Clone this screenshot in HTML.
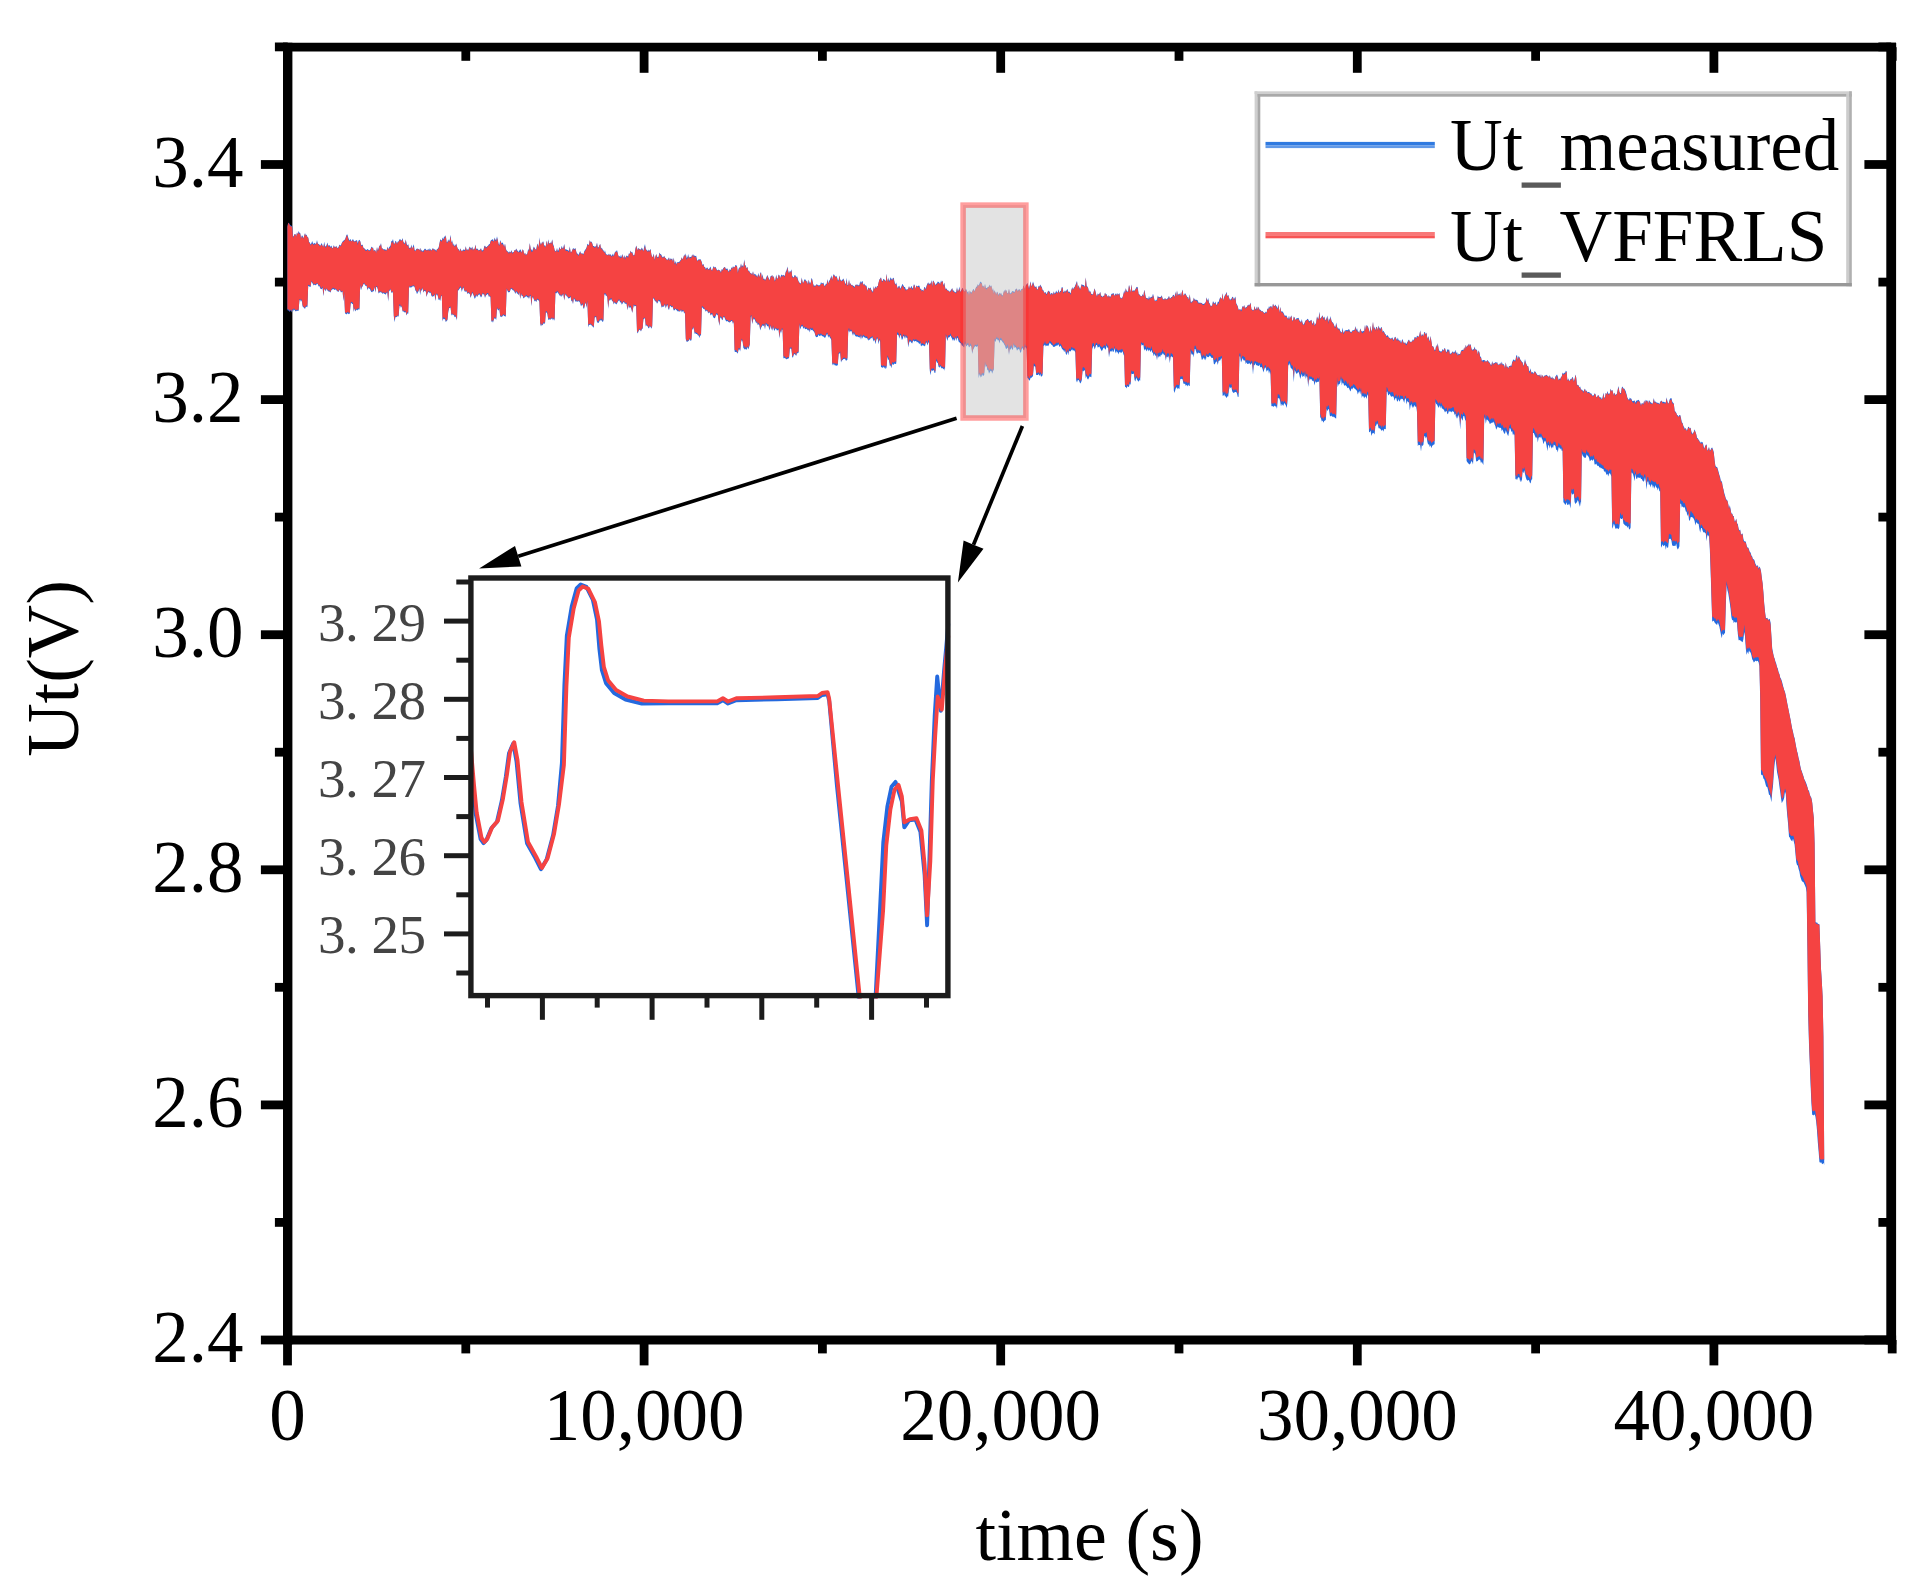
<!DOCTYPE html>
<html lang="en"><head><meta charset="utf-8"><title>Ut measured vs VFFRLS</title>
<style>html,body{margin:0;padding:0;background:#fff}svg{display:block}</style></head>
<body>
<svg width="1925" height="1595" viewBox="0 0 1925 1595">
<rect width="1925" height="1595" fill="#fff"/>
<g stroke="#000" stroke-width="8.8" fill="none">
<line x1="287.7" y1="42.800000000000004" x2="287.7" y2="1344.4" stroke-width="9.4"/>
<line x1="1891.2" y1="42.800000000000004" x2="1891.2" y2="1344.4" stroke-width="9.8"/>
<line x1="283.0" y1="47.2" x2="1896.1000000000001" y2="47.2"/>
<line x1="283.0" y1="1340.0" x2="1896.1000000000001" y2="1340.0"/>
<line x1="287.5" y1="1340.0" x2="287.5" y2="1365.4"/>
<line x1="287.5" y1="47.2" x2="287.5" y2="72.8"/>
<line x1="465.8" y1="1340.0" x2="465.8" y2="1353.4"/>
<line x1="465.8" y1="47.2" x2="465.8" y2="60.800000000000004"/>
<line x1="644.1" y1="1340.0" x2="644.1" y2="1365.4"/>
<line x1="644.1" y1="47.2" x2="644.1" y2="72.8"/>
<line x1="822.4" y1="1340.0" x2="822.4" y2="1353.4"/>
<line x1="822.4" y1="47.2" x2="822.4" y2="60.800000000000004"/>
<line x1="1000.7" y1="1340.0" x2="1000.7" y2="1365.4"/>
<line x1="1000.7" y1="47.2" x2="1000.7" y2="72.8"/>
<line x1="1179.0" y1="1340.0" x2="1179.0" y2="1353.4"/>
<line x1="1179.0" y1="47.2" x2="1179.0" y2="60.800000000000004"/>
<line x1="1357.3" y1="1340.0" x2="1357.3" y2="1365.4"/>
<line x1="1357.3" y1="47.2" x2="1357.3" y2="72.8"/>
<line x1="1535.6" y1="1340.0" x2="1535.6" y2="1353.4"/>
<line x1="1535.6" y1="47.2" x2="1535.6" y2="60.800000000000004"/>
<line x1="1713.9" y1="1340.0" x2="1713.9" y2="1365.4"/>
<line x1="1713.9" y1="47.2" x2="1713.9" y2="72.8"/>
<line x1="1892.2" y1="1340.0" x2="1892.2" y2="1353.4"/>
<line x1="1892.2" y1="47.2" x2="1892.2" y2="60.800000000000004"/>
<line x1="287.7" y1="1340.0" x2="260.9" y2="1340.0"/>
<line x1="1891.2" y1="1340.0" x2="1864.4" y2="1340.0"/>
<line x1="287.7" y1="1222.4" x2="274.9" y2="1222.4"/>
<line x1="1891.2" y1="1222.4" x2="1878.4" y2="1222.4"/>
<line x1="287.7" y1="1104.9" x2="260.9" y2="1104.9"/>
<line x1="1891.2" y1="1104.9" x2="1864.4" y2="1104.9"/>
<line x1="287.7" y1="987.3" x2="274.9" y2="987.3"/>
<line x1="1891.2" y1="987.3" x2="1878.4" y2="987.3"/>
<line x1="287.7" y1="869.8" x2="260.9" y2="869.8"/>
<line x1="1891.2" y1="869.8" x2="1864.4" y2="869.8"/>
<line x1="287.7" y1="752.2" x2="274.9" y2="752.2"/>
<line x1="1891.2" y1="752.2" x2="1878.4" y2="752.2"/>
<line x1="287.7" y1="634.7" x2="260.9" y2="634.7"/>
<line x1="1891.2" y1="634.7" x2="1864.4" y2="634.7"/>
<line x1="287.7" y1="517.1" x2="274.9" y2="517.1"/>
<line x1="1891.2" y1="517.1" x2="1878.4" y2="517.1"/>
<line x1="287.7" y1="399.6" x2="260.9" y2="399.6"/>
<line x1="1891.2" y1="399.6" x2="1864.4" y2="399.6"/>
<line x1="287.7" y1="282.1" x2="274.9" y2="282.1"/>
<line x1="1891.2" y1="282.1" x2="1878.4" y2="282.1"/>
<line x1="287.7" y1="164.5" x2="260.9" y2="164.5"/>
<line x1="1891.2" y1="164.5" x2="1864.4" y2="164.5"/>
<line x1="287.7" y1="46.9" x2="274.9" y2="46.9"/>
<line x1="1891.2" y1="46.9" x2="1878.4" y2="46.9"/>
</g>
<polygon points="287.4,226.5 288.2,222.7 289.0,223.1 289.8,224.4 290.6,225.3 291.4,225.7 292.2,226.5 293.0,236.8 293.8,235.8 294.6,233.9 295.4,234.1 296.2,236.8 297.0,232.3 297.8,234.2 298.6,231.1 299.4,232.7 300.2,233.0 301.0,238.5 301.8,235.4 302.6,235.8 303.4,238.2 304.2,235.7 305.0,233.1 305.8,235.5 306.6,234.6 307.4,236.9 308.2,237.4 309.0,241.9 309.8,242.4 310.6,244.5 311.4,243.2 312.2,241.1 313.0,243.3 313.8,244.1 314.6,242.7 315.4,243.7 316.2,243.7 317.0,240.1 317.8,243.7 318.6,244.1 319.4,244.6 320.2,245.9 321.0,244.2 321.8,243.0 322.6,245.8 323.4,246.7 324.2,241.7 325.0,246.0 325.8,246.6 326.6,245.1 327.4,242.6 328.2,245.5 329.0,245.4 329.8,245.3 330.6,247.0 331.4,245.6 332.2,247.8 333.0,248.2 333.8,244.9 334.6,247.0 335.4,247.1 336.2,245.8 337.0,247.4 337.8,248.1 338.6,247.0 339.4,244.6 340.2,245.6 341.0,244.9 341.8,243.1 342.6,241.5 343.4,240.7 344.2,240.1 345.0,239.4 345.8,236.9 346.6,234.7 347.4,234.5 348.2,237.6 349.0,239.5 349.8,240.4 350.6,238.8 351.4,241.5 352.2,239.9 353.0,239.0 353.8,240.8 354.6,241.4 355.4,240.7 356.2,240.5 357.0,240.1 357.8,243.5 358.6,240.6 359.4,239.8 360.2,240.9 361.0,244.6 361.8,245.2 362.6,244.4 363.4,247.8 364.2,248.3 365.0,249.1 365.8,249.7 366.6,250.0 367.4,249.0 368.2,249.4 369.0,250.5 369.8,249.9 370.6,249.1 371.4,246.5 372.2,247.7 373.0,247.3 373.8,251.2 374.6,249.7 375.4,250.4 376.2,252.9 377.0,246.7 377.8,250.7 378.6,248.2 379.4,245.4 380.2,245.7 381.0,242.9 381.8,248.7 382.6,248.2 383.4,249.6 384.2,248.9 385.0,249.7 385.8,249.6 386.6,250.4 387.4,246.4 388.2,249.5 389.0,247.6 389.8,246.6 390.6,245.6 391.4,241.0 392.2,241.1 393.0,239.1 393.8,243.5 394.6,243.7 395.4,240.8 396.2,241.4 397.0,244.0 397.8,241.6 398.6,241.6 399.4,239.4 400.2,238.9 401.0,240.5 401.8,240.3 402.6,238.1 403.4,242.2 404.2,242.5 405.0,243.7 405.8,239.3 406.6,243.7 407.4,245.5 408.2,244.1 409.0,248.2 409.8,247.6 410.6,247.9 411.4,244.5 412.2,248.8 413.0,246.3 413.8,244.2 414.6,250.0 415.4,250.8 416.2,249.3 417.0,248.6 417.8,248.8 418.6,248.9 419.4,250.2 420.2,247.8 421.0,251.1 421.8,249.6 422.6,251.5 423.4,250.6 424.2,249.5 425.0,248.4 425.8,249.3 426.6,250.2 427.4,250.0 428.2,248.8 429.0,250.5 429.8,248.2 430.6,249.4 431.4,250.6 432.2,248.9 433.0,248.0 433.8,249.5 434.6,249.3 435.4,249.8 436.2,251.0 437.0,249.0 437.8,248.7 438.6,247.5 439.4,244.1 440.2,239.2 441.0,239.9 441.8,240.4 442.6,237.6 443.4,239.3 444.2,236.1 445.0,237.5 445.8,235.1 446.6,242.2 447.4,242.3 448.2,239.3 449.0,241.4 449.8,239.4 450.6,234.7 451.4,242.7 452.2,240.2 453.0,245.7 453.8,243.2 454.6,246.2 455.4,245.3 456.2,243.5 457.0,246.4 457.8,248.7 458.6,249.1 459.4,251.4 460.2,248.3 461.0,249.9 461.8,251.1 462.6,250.4 463.4,249.4 464.2,249.6 465.0,250.2 465.8,245.9 466.6,249.9 467.4,249.3 468.2,250.3 469.0,247.9 469.8,246.5 470.6,248.1 471.4,248.6 472.2,246.4 473.0,250.3 473.8,248.6 474.6,249.1 475.4,244.5 476.2,248.7 477.0,248.8 477.8,248.8 478.6,250.6 479.4,250.1 480.2,249.5 481.0,248.0 481.8,250.8 482.6,250.2 483.4,250.0 484.2,246.6 485.0,245.4 485.8,247.3 486.6,247.1 487.4,246.2 488.2,245.5 489.0,244.3 489.8,243.9 490.6,240.8 491.4,239.9 492.2,239.4 493.0,239.3 493.8,241.5 494.6,237.4 495.4,239.6 496.2,240.3 497.0,236.3 497.8,240.1 498.6,244.1 499.4,245.0 500.2,240.0 501.0,242.2 501.8,243.6 502.6,242.3 503.4,244.3 504.2,247.1 505.0,243.5 505.8,248.6 506.6,250.4 507.4,251.3 508.2,251.7 509.0,252.8 509.8,251.2 510.6,252.5 511.4,250.0 512.2,252.6 513.0,252.2 513.8,252.0 514.6,249.9 515.4,250.6 516.2,248.5 517.0,249.9 517.8,250.9 518.6,251.9 519.4,250.5 520.2,249.3 521.0,250.4 521.8,252.5 522.6,249.2 523.4,250.2 524.2,254.6 525.0,252.4 525.8,254.9 526.6,254.2 527.4,253.4 528.2,248.6 529.0,250.9 529.8,242.8 530.6,248.5 531.4,249.4 532.2,250.9 533.0,249.1 533.8,246.4 534.6,247.8 535.4,249.2 536.2,249.7 537.0,245.3 537.8,243.4 538.6,247.6 539.4,237.3 540.2,245.1 541.0,241.9 541.8,244.4 542.6,241.7 543.4,241.6 544.2,245.9 545.0,244.8 545.8,246.9 546.6,240.5 547.4,245.6 548.2,239.3 549.0,243.6 549.8,243.1 550.6,242.4 551.4,243.1 552.2,239.3 553.0,244.1 553.8,246.0 554.6,250.1 555.4,251.1 556.2,251.4 557.0,247.7 557.8,251.2 558.6,250.0 559.4,246.8 560.2,249.5 561.0,248.4 561.8,245.7 562.6,248.4 563.4,247.6 564.2,243.8 565.0,249.1 565.8,249.5 566.6,249.5 567.4,250.0 568.2,250.3 569.0,251.1 569.8,246.2 570.6,252.2 571.4,252.0 572.2,250.2 573.0,248.2 573.8,248.4 574.6,249.1 575.4,248.1 576.2,251.2 577.0,253.8 577.8,253.4 578.6,255.1 579.4,252.8 580.2,250.9 581.0,253.7 581.8,253.2 582.6,253.6 583.4,254.3 584.2,251.5 585.0,250.0 585.8,248.9 586.6,247.6 587.4,243.7 588.2,244.5 589.0,245.0 589.8,240.0 590.6,242.2 591.4,241.4 592.2,243.0 593.0,246.0 593.8,246.1 594.6,246.7 595.4,246.5 596.2,246.0 597.0,242.5 597.8,247.5 598.6,247.3 599.4,245.2 600.2,243.7 601.0,248.7 601.8,247.6 602.6,249.6 603.4,250.2 604.2,252.6 605.0,250.2 605.8,253.7 606.6,254.4 607.4,254.8 608.2,254.9 609.0,253.6 609.8,255.3 610.6,253.9 611.4,256.0 612.2,255.0 613.0,253.6 613.8,255.9 614.6,252.8 615.4,251.5 616.2,251.4 617.0,250.1 617.8,253.4 618.6,256.5 619.4,256.0 620.2,257.3 621.0,254.7 621.8,257.3 622.6,253.7 623.4,258.5 624.2,255.1 625.0,258.0 625.8,256.7 626.6,255.6 627.4,256.1 628.2,256.7 629.0,252.7 629.8,254.3 630.6,250.5 631.4,252.6 632.2,251.8 633.0,254.4 633.8,255.4 634.6,254.8 635.4,248.8 636.2,245.4 637.0,247.8 637.8,250.2 638.6,247.7 639.4,249.0 640.2,249.4 641.0,249.3 641.8,247.4 642.6,248.9 643.4,251.0 644.2,246.8 645.0,243.9 645.8,249.3 646.6,249.8 647.4,251.3 648.2,249.4 649.0,251.3 649.8,249.9 650.6,249.1 651.4,254.5 652.2,256.9 653.0,256.3 653.8,253.5 654.6,259.7 655.4,256.7 656.2,253.9 657.0,256.5 657.8,257.3 658.6,256.8 659.4,252.5 660.2,254.1 661.0,254.2 661.8,255.7 662.6,257.3 663.4,256.9 664.2,255.8 665.0,257.7 665.8,257.9 666.6,259.6 667.4,259.8 668.2,258.7 669.0,257.3 669.8,260.5 670.6,258.2 671.4,259.1 672.2,258.6 673.0,261.9 673.8,257.6 674.6,263.6 675.4,261.1 676.2,264.4 677.0,262.0 677.8,262.4 678.6,262.0 679.4,261.7 680.2,260.5 681.0,259.7 681.8,257.2 682.6,259.5 683.4,257.5 684.2,254.2 685.0,256.6 685.8,253.3 686.6,258.0 687.4,257.3 688.2,254.0 689.0,258.0 689.8,256.8 690.6,257.1 691.4,257.0 692.2,254.2 693.0,256.4 693.8,254.3 694.6,256.0 695.4,256.0 696.2,255.7 697.0,260.0 697.8,260.7 698.6,259.2 699.4,259.6 700.2,259.1 701.0,260.2 701.8,262.3 702.6,265.3 703.4,263.8 704.2,267.1 705.0,266.8 705.8,269.3 706.6,267.7 707.4,267.6 708.2,269.0 709.0,269.2 709.8,267.8 710.6,266.5 711.4,269.9 712.2,270.5 713.0,267.7 713.8,266.1 714.6,267.7 715.4,266.7 716.2,268.3 717.0,270.2 717.8,270.3 718.6,269.6 719.4,270.3 720.2,270.6 721.0,272.5 721.8,269.0 722.6,269.8 723.4,267.9 724.2,267.2 725.0,267.1 725.8,268.9 726.6,268.7 727.4,268.6 728.2,270.6 729.0,271.7 729.8,268.9 730.6,270.3 731.4,267.0 732.2,268.7 733.0,265.9 733.8,267.5 734.6,267.2 735.4,265.0 736.2,265.3 737.0,266.1 737.8,273.0 738.6,268.8 739.4,267.2 740.2,267.7 741.0,263.3 741.8,266.8 742.6,265.0 743.4,266.9 744.2,259.3 745.0,265.1 745.8,265.6 746.6,268.4 747.4,266.7 748.2,270.7 749.0,270.4 749.8,272.3 750.6,273.3 751.4,273.2 752.2,274.7 753.0,271.1 753.8,275.2 754.6,273.8 755.4,274.1 756.2,276.3 757.0,274.5 757.8,277.3 758.6,272.8 759.4,277.2 760.2,273.3 761.0,272.1 761.8,278.3 762.6,273.9 763.4,279.0 764.2,278.5 765.0,280.3 765.8,278.7 766.6,276.7 767.4,275.0 768.2,277.1 769.0,278.7 769.8,280.2 770.6,276.1 771.4,276.0 772.2,274.9 773.0,277.8 773.8,275.8 774.6,280.8 775.4,279.8 776.2,274.4 777.0,278.8 777.8,277.9 778.6,274.4 779.4,275.2 780.2,278.4 781.0,275.4 781.8,274.6 782.6,275.8 783.4,274.8 784.2,276.1 785.0,274.9 785.8,271.4 786.6,270.2 787.4,266.6 788.2,270.4 789.0,273.7 789.8,271.0 790.6,271.8 791.4,269.3 792.2,275.7 793.0,276.9 793.8,277.4 794.6,275.0 795.4,275.2 796.2,277.6 797.0,276.1 797.8,278.8 798.6,281.4 799.4,282.6 800.2,283.4 801.0,283.1 801.8,277.3 802.6,282.4 803.4,282.7 804.2,280.0 805.0,278.9 805.8,280.4 806.6,281.0 807.4,284.2 808.2,279.5 809.0,284.1 809.8,281.0 810.6,284.0 811.4,277.9 812.2,278.9 813.0,283.2 813.8,285.7 814.6,285.4 815.4,286.1 816.2,284.2 817.0,284.8 817.8,284.8 818.6,285.4 819.4,285.3 820.2,285.3 821.0,282.0 821.8,283.5 822.6,283.3 823.4,282.4 824.2,285.4 825.0,285.9 825.8,283.7 826.6,284.3 827.4,278.9 828.2,283.6 829.0,281.0 829.8,280.0 830.6,278.1 831.4,275.2 832.2,279.7 833.0,276.0 833.8,274.1 834.6,275.6 835.4,276.8 836.2,275.7 837.0,277.3 837.8,280.5 838.6,280.3 839.4,275.3 840.2,279.4 841.0,280.7 841.8,280.6 842.6,279.6 843.4,278.5 844.2,280.6 845.0,282.7 845.8,284.2 846.6,277.8 847.4,285.0 848.2,284.9 849.0,279.3 849.8,284.7 850.6,283.1 851.4,285.2 852.2,284.8 853.0,286.0 853.8,285.7 854.6,286.9 855.4,285.1 856.2,284.2 857.0,285.5 857.8,284.3 858.6,285.6 859.4,285.0 860.2,280.9 861.0,282.9 861.8,281.4 862.6,281.0 863.4,284.9 864.2,283.4 865.0,285.4 865.8,285.2 866.6,286.1 867.4,290.9 868.2,287.7 869.0,287.8 869.8,288.7 870.6,287.3 871.4,290.1 872.2,290.8 873.0,292.1 873.8,286.1 874.6,289.4 875.4,286.0 876.2,288.3 877.0,286.1 877.8,286.2 878.6,282.6 879.4,279.5 880.2,278.4 881.0,277.3 881.8,281.0 882.6,281.1 883.4,278.7 884.2,279.4 885.0,280.0 885.8,281.6 886.6,273.6 887.4,282.0 888.2,277.4 889.0,281.0 889.8,279.8 890.6,277.3 891.4,278.7 892.2,280.0 893.0,277.7 893.8,278.0 894.6,282.4 895.4,284.6 896.2,282.5 897.0,285.9 897.8,288.4 898.6,286.1 899.4,285.8 900.2,288.8 901.0,287.2 901.8,285.5 902.6,283.7 903.4,285.4 904.2,287.0 905.0,286.9 905.8,289.6 906.6,289.6 907.4,289.5 908.2,288.9 909.0,285.9 909.8,288.2 910.6,287.8 911.4,285.8 912.2,287.8 913.0,288.4 913.8,284.4 914.6,284.7 915.4,289.1 916.2,285.5 917.0,286.0 917.8,286.5 918.6,285.6 919.4,285.7 920.2,289.1 921.0,288.6 921.8,290.7 922.6,289.7 923.4,291.3 924.2,287.0 925.0,287.3 925.8,288.9 926.6,285.5 927.4,283.8 928.2,282.2 929.0,284.4 929.8,283.2 930.6,283.7 931.4,280.0 932.2,286.2 933.0,280.3 933.8,281.4 934.6,282.9 935.4,285.0 936.2,283.7 937.0,283.2 937.8,281.6 938.6,282.0 939.4,282.8 940.2,284.5 941.0,280.2 941.8,282.3 942.6,280.4 943.4,285.5 944.2,282.5 945.0,286.8 945.8,289.4 946.6,288.2 947.4,290.2 948.2,290.5 949.0,290.8 949.8,292.1 950.6,290.4 951.4,289.5 952.2,287.9 953.0,291.6 953.8,290.1 954.6,292.2 955.4,292.3 956.2,292.3 957.0,286.9 957.8,291.5 958.6,290.2 959.4,286.4 960.2,291.9 961.0,290.7 961.8,288.9 962.6,287.8 963.4,289.8 964.2,290.9 965.0,291.4 965.8,288.5 966.6,290.1 967.4,292.6 968.2,290.7 969.0,295.8 969.8,290.1 970.6,292.2 971.4,292.4 972.2,291.5 973.0,289.6 973.8,289.0 974.6,291.2 975.4,289.1 976.2,286.6 977.0,286.8 977.8,284.1 978.6,285.7 979.4,284.1 980.2,281.6 981.0,282.2 981.8,282.8 982.6,286.6 983.4,285.5 984.2,288.4 985.0,283.6 985.8,287.9 986.6,288.0 987.4,287.5 988.2,287.1 989.0,286.3 989.8,284.5 990.6,286.7 991.4,285.3 992.2,290.8 993.0,287.8 993.8,293.4 994.6,289.9 995.4,292.2 996.2,294.5 997.0,291.5 997.8,292.7 998.6,294.9 999.4,292.6 1000.2,294.5 1001.0,292.5 1001.8,295.0 1002.6,295.5 1003.4,292.9 1004.2,289.8 1005.0,292.3 1005.8,289.3 1006.6,291.1 1007.4,293.2 1008.2,293.0 1009.0,288.4 1009.8,293.0 1010.6,293.5 1011.4,292.5 1012.2,291.1 1013.0,291.3 1013.8,291.4 1014.6,292.0 1015.4,289.6 1016.2,288.4 1017.0,288.9 1017.8,291.2 1018.6,289.4 1019.4,288.9 1020.2,291.2 1021.0,289.5 1021.8,289.0 1022.6,288.9 1023.4,285.3 1024.2,287.2 1025.0,289.4 1025.8,285.4 1026.6,284.2 1027.4,283.0 1028.2,285.7 1029.0,288.7 1029.8,285.0 1030.6,281.2 1031.4,286.4 1032.2,284.8 1033.0,281.4 1033.8,283.9 1034.6,286.5 1035.4,287.1 1036.2,286.1 1037.0,289.3 1037.8,289.2 1038.6,285.7 1039.4,286.7 1040.2,284.5 1041.0,286.0 1041.8,287.1 1042.6,290.3 1043.4,290.2 1044.2,293.1 1045.0,292.0 1045.8,292.6 1046.6,294.3 1047.4,292.5 1048.2,290.4 1049.0,291.4 1049.8,291.6 1050.6,294.7 1051.4,293.1 1052.2,293.1 1053.0,294.8 1053.8,291.2 1054.6,293.7 1055.4,292.7 1056.2,290.6 1057.0,292.5 1057.8,292.3 1058.6,289.3 1059.4,293.1 1060.2,291.1 1061.0,290.7 1061.8,286.9 1062.6,287.3 1063.4,291.9 1064.2,292.0 1065.0,290.2 1065.8,291.8 1066.6,290.2 1067.4,288.7 1068.2,292.1 1069.0,291.3 1069.8,292.2 1070.6,293.4 1071.4,290.1 1072.2,287.1 1073.0,289.6 1073.8,287.7 1074.6,287.1 1075.4,285.0 1076.2,283.0 1077.0,280.8 1077.8,288.3 1078.6,285.0 1079.4,287.6 1080.2,289.5 1081.0,286.3 1081.8,284.1 1082.6,284.9 1083.4,284.9 1084.2,285.6 1085.0,287.0 1085.8,277.2 1086.6,285.8 1087.4,286.5 1088.2,288.0 1089.0,292.6 1089.8,290.3 1090.6,292.0 1091.4,294.0 1092.2,293.9 1093.0,294.8 1093.8,291.3 1094.6,288.3 1095.4,291.0 1096.2,294.4 1097.0,296.7 1097.8,293.3 1098.6,294.5 1099.4,293.9 1100.2,291.8 1101.0,295.7 1101.8,295.7 1102.6,297.1 1103.4,295.5 1104.2,296.4 1105.0,292.5 1105.8,294.4 1106.6,294.0 1107.4,296.9 1108.2,295.1 1109.0,297.3 1109.8,295.7 1110.6,297.0 1111.4,293.8 1112.2,293.9 1113.0,293.0 1113.8,293.6 1114.6,296.0 1115.4,293.7 1116.2,293.6 1117.0,295.2 1117.8,293.1 1118.6,294.8 1119.4,292.8 1120.2,297.7 1121.0,297.5 1121.8,298.4 1122.6,297.1 1123.4,294.2 1124.2,290.3 1125.0,293.4 1125.8,287.9 1126.6,290.7 1127.4,291.5 1128.2,291.6 1129.0,284.7 1129.8,287.6 1130.6,292.4 1131.4,284.2 1132.2,290.5 1133.0,291.2 1133.8,289.9 1134.6,290.7 1135.4,289.2 1136.2,287.5 1137.0,286.7 1137.8,287.6 1138.6,293.9 1139.4,294.2 1140.2,295.4 1141.0,296.0 1141.8,296.3 1142.6,294.1 1143.4,295.9 1144.2,289.7 1145.0,292.8 1145.8,297.4 1146.6,298.0 1147.4,298.1 1148.2,299.2 1149.0,295.8 1149.8,298.6 1150.6,297.2 1151.4,296.8 1152.2,297.0 1153.0,293.5 1153.8,297.0 1154.6,300.7 1155.4,300.8 1156.2,299.5 1157.0,300.7 1157.8,295.6 1158.6,297.0 1159.4,297.0 1160.2,297.1 1161.0,296.7 1161.8,295.3 1162.6,298.6 1163.4,299.2 1164.2,299.6 1165.0,297.8 1165.8,299.2 1166.6,299.2 1167.4,298.4 1168.2,297.7 1169.0,295.7 1169.8,298.8 1170.6,298.0 1171.4,296.9 1172.2,297.0 1173.0,295.1 1173.8,294.8 1174.6,297.1 1175.4,291.4 1176.2,296.4 1177.0,290.3 1177.8,295.7 1178.6,293.7 1179.4,294.6 1180.2,292.5 1181.0,296.5 1181.8,292.2 1182.6,289.4 1183.4,295.8 1184.2,294.7 1185.0,293.1 1185.8,294.3 1186.6,295.8 1187.4,297.2 1188.2,296.9 1189.0,300.0 1189.8,294.0 1190.6,301.6 1191.4,302.6 1192.2,300.4 1193.0,301.7 1193.8,297.4 1194.6,299.5 1195.4,299.8 1196.2,299.7 1197.0,299.9 1197.8,300.6 1198.6,302.7 1199.4,302.7 1200.2,302.4 1201.0,303.2 1201.8,302.8 1202.6,304.0 1203.4,303.9 1204.2,303.7 1205.0,303.0 1205.8,302.0 1206.6,297.3 1207.4,300.7 1208.2,298.1 1209.0,302.6 1209.8,303.6 1210.6,306.1 1211.4,305.8 1212.2,305.7 1213.0,301.1 1213.8,302.4 1214.6,303.5 1215.4,301.4 1216.2,304.6 1217.0,305.1 1217.8,301.8 1218.6,302.0 1219.4,299.6 1220.2,297.0 1221.0,298.1 1221.8,299.0 1222.6,292.9 1223.4,300.5 1224.2,297.1 1225.0,294.9 1225.8,294.0 1226.6,291.8 1227.4,296.3 1228.2,294.7 1229.0,297.4 1229.8,299.8 1230.6,299.4 1231.4,298.7 1232.2,297.1 1233.0,296.7 1233.8,299.6 1234.6,297.9 1235.4,296.5 1236.2,303.3 1237.0,304.7 1237.8,306.4 1238.6,309.7 1239.4,309.4 1240.2,309.0 1241.0,310.6 1241.8,308.5 1242.6,305.9 1243.4,307.1 1244.2,305.1 1245.0,308.6 1245.8,307.1 1246.6,307.3 1247.4,305.7 1248.2,304.5 1249.0,305.8 1249.8,304.4 1250.6,302.6 1251.4,309.2 1252.2,309.5 1253.0,310.6 1253.8,309.8 1254.6,305.9 1255.4,309.3 1256.2,309.0 1257.0,306.2 1257.8,309.6 1258.6,306.5 1259.4,309.4 1260.2,309.8 1261.0,310.5 1261.8,311.4 1262.6,311.1 1263.4,312.2 1264.2,312.7 1265.0,313.1 1265.8,311.6 1266.6,312.8 1267.4,308.2 1268.2,309.5 1269.0,306.0 1269.8,307.7 1270.6,306.0 1271.4,306.2 1272.2,308.5 1273.0,303.5 1273.8,305.8 1274.6,306.1 1275.4,304.5 1276.2,306.3 1277.0,306.5 1277.8,308.7 1278.6,304.1 1279.4,313.0 1280.2,306.7 1281.0,311.2 1281.8,311.6 1282.6,311.5 1283.4,312.8 1284.2,314.5 1285.0,316.2 1285.8,315.3 1286.6,315.7 1287.4,318.1 1288.2,319.1 1289.0,315.4 1289.8,319.3 1290.6,316.9 1291.4,315.3 1292.2,320.4 1293.0,320.5 1293.8,316.6 1294.6,317.6 1295.4,320.0 1296.2,318.8 1297.0,318.1 1297.8,318.2 1298.6,317.8 1299.4,320.6 1300.2,321.0 1301.0,322.5 1301.8,319.1 1302.6,323.1 1303.4,324.7 1304.2,323.6 1305.0,321.4 1305.8,320.3 1306.6,320.0 1307.4,318.8 1308.2,319.2 1309.0,321.2 1309.8,321.1 1310.6,320.4 1311.4,319.7 1312.2,323.5 1313.0,323.3 1313.8,320.5 1314.6,325.5 1315.4,324.1 1316.2,322.7 1317.0,316.2 1317.8,318.6 1318.6,318.8 1319.4,311.6 1320.2,318.5 1321.0,318.0 1321.8,316.6 1322.6,315.3 1323.4,318.0 1324.2,316.4 1325.0,318.9 1325.8,320.6 1326.6,318.1 1327.4,315.6 1328.2,322.3 1329.0,318.0 1329.8,320.3 1330.6,316.1 1331.4,320.5 1332.2,322.2 1333.0,322.6 1333.8,324.3 1334.6,326.6 1335.4,327.0 1336.2,322.5 1337.0,326.5 1337.8,328.6 1338.6,328.4 1339.4,328.6 1340.2,330.7 1341.0,332.0 1341.8,332.4 1342.6,327.5 1343.4,332.8 1344.2,332.1 1345.0,330.3 1345.8,330.4 1346.6,330.1 1347.4,330.3 1348.2,329.8 1349.0,329.1 1349.8,330.8 1350.6,332.0 1351.4,332.2 1352.2,330.5 1353.0,330.5 1353.8,330.1 1354.6,329.9 1355.4,325.9 1356.2,330.1 1357.0,328.0 1357.8,331.6 1358.6,331.5 1359.4,332.9 1360.2,328.3 1361.0,330.4 1361.8,331.5 1362.6,331.6 1363.4,330.7 1364.2,331.6 1365.0,324.5 1365.8,329.9 1366.6,324.9 1367.4,325.8 1368.2,327.3 1369.0,329.7 1369.8,332.5 1370.6,325.6 1371.4,332.0 1372.2,328.4 1373.0,321.8 1373.8,329.4 1374.6,326.5 1375.4,330.3 1376.2,326.7 1377.0,327.3 1377.8,330.0 1378.6,325.6 1379.4,327.9 1380.2,328.9 1381.0,327.4 1381.8,326.9 1382.6,332.1 1383.4,330.8 1384.2,332.0 1385.0,333.7 1385.8,334.4 1386.6,336.2 1387.4,335.0 1388.2,336.0 1389.0,338.2 1389.8,337.5 1390.6,338.8 1391.4,338.6 1392.2,337.3 1393.0,339.1 1393.8,340.1 1394.6,337.3 1395.4,336.7 1396.2,338.4 1397.0,340.0 1397.8,337.4 1398.6,340.0 1399.4,340.7 1400.2,340.1 1401.0,343.3 1401.8,340.6 1402.6,339.0 1403.4,342.0 1404.2,343.4 1405.0,341.9 1405.8,343.7 1406.6,343.7 1407.4,342.1 1408.2,340.6 1409.0,339.5 1409.8,341.7 1410.6,341.7 1411.4,341.7 1412.2,341.2 1413.0,338.9 1413.8,340.8 1414.6,337.0 1415.4,336.9 1416.2,338.6 1417.0,335.5 1417.8,336.2 1418.6,336.8 1419.4,335.0 1420.2,330.2 1421.0,336.4 1421.8,334.2 1422.6,334.5 1423.4,335.9 1424.2,332.0 1425.0,332.2 1425.8,334.5 1426.6,332.4 1427.4,339.0 1428.2,336.0 1429.0,338.8 1429.8,341.5 1430.6,335.7 1431.4,341.2 1432.2,346.4 1433.0,345.9 1433.8,347.7 1434.6,350.3 1435.4,349.9 1436.2,344.7 1437.0,347.4 1437.8,343.0 1438.6,349.0 1439.4,350.8 1440.2,351.5 1441.0,351.2 1441.8,351.4 1442.6,348.7 1443.4,350.7 1444.2,348.4 1445.0,347.9 1445.8,351.2 1446.6,352.3 1447.4,349.0 1448.2,350.3 1449.0,349.1 1449.8,354.1 1450.6,353.6 1451.4,353.2 1452.2,351.7 1453.0,351.6 1453.8,352.7 1454.6,352.1 1455.4,349.8 1456.2,353.4 1457.0,351.6 1457.8,355.5 1458.6,353.5 1459.4,354.0 1460.2,354.3 1461.0,351.1 1461.8,349.9 1462.6,349.7 1463.4,350.6 1464.2,346.9 1465.0,349.9 1465.8,344.8 1466.6,347.5 1467.4,345.4 1468.2,345.5 1469.0,343.4 1469.8,346.1 1470.6,343.8 1471.4,348.2 1472.2,350.5 1473.0,349.0 1473.8,349.5 1474.6,346.4 1475.4,349.5 1476.2,349.6 1477.0,350.1 1477.8,354.4 1478.6,350.3 1479.4,352.3 1480.2,356.6 1481.0,357.0 1481.8,360.9 1482.6,360.3 1483.4,360.0 1484.2,360.3 1485.0,360.2 1485.8,361.7 1486.6,361.2 1487.4,359.9 1488.2,360.9 1489.0,362.1 1489.8,362.8 1490.6,364.8 1491.4,364.9 1492.2,360.9 1493.0,364.3 1493.8,363.1 1494.6,363.1 1495.4,362.1 1496.2,363.1 1497.0,361.8 1497.8,364.5 1498.6,364.6 1499.4,364.4 1500.2,362.4 1501.0,364.7 1501.8,361.4 1502.6,364.4 1503.4,363.9 1504.2,364.9 1505.0,368.4 1505.8,362.3 1506.6,367.0 1507.4,366.3 1508.2,368.6 1509.0,366.0 1509.8,366.0 1510.6,365.6 1511.4,366.1 1512.2,361.9 1513.0,360.2 1513.8,359.3 1514.6,360.6 1515.4,360.6 1516.2,355.7 1517.0,354.9 1517.8,359.8 1518.6,355.9 1519.4,357.0 1520.2,359.4 1521.0,360.2 1521.8,361.7 1522.6,362.3 1523.4,366.0 1524.2,363.2 1525.0,359.0 1525.8,362.5 1526.6,364.4 1527.4,366.3 1528.2,366.0 1529.0,370.3 1529.8,371.4 1530.6,368.3 1531.4,372.6 1532.2,372.2 1533.0,372.3 1533.8,373.8 1534.6,371.0 1535.4,371.7 1536.2,373.0 1537.0,374.6 1537.8,375.2 1538.6,375.3 1539.4,374.6 1540.2,377.1 1541.0,373.9 1541.8,377.7 1542.6,374.7 1543.4,377.3 1544.2,375.7 1545.0,375.6 1545.8,375.2 1546.6,374.8 1547.4,375.7 1548.2,376.0 1549.0,377.4 1549.8,374.9 1550.6,377.7 1551.4,377.9 1552.2,376.4 1553.0,379.3 1553.8,377.7 1554.6,379.9 1555.4,376.5 1556.2,375.6 1557.0,374.6 1557.8,376.4 1558.6,380.0 1559.4,378.4 1560.2,379.1 1561.0,376.9 1561.8,376.3 1562.6,372.5 1563.4,373.9 1564.2,372.6 1565.0,373.2 1565.8,370.8 1566.6,371.3 1567.4,380.7 1568.2,378.2 1569.0,380.7 1569.8,380.6 1570.6,378.8 1571.4,379.2 1572.2,377.0 1573.0,377.5 1573.8,381.6 1574.6,379.1 1575.4,374.5 1576.2,377.2 1577.0,385.5 1577.8,384.4 1578.6,385.6 1579.4,387.4 1580.2,386.6 1581.0,390.0 1581.8,389.2 1582.6,390.6 1583.4,391.6 1584.2,390.0 1585.0,388.5 1585.8,391.7 1586.6,390.3 1587.4,392.5 1588.2,391.9 1589.0,392.0 1589.8,392.8 1590.6,393.5 1591.4,393.6 1592.2,395.5 1593.0,395.6 1593.8,395.3 1594.6,393.2 1595.4,393.9 1596.2,396.7 1597.0,397.5 1597.8,395.3 1598.6,395.3 1599.4,397.0 1600.2,397.8 1601.0,397.0 1601.8,399.4 1602.6,397.6 1603.4,392.4 1604.2,397.6 1605.0,397.6 1605.8,392.7 1606.6,394.3 1607.4,391.1 1608.2,393.4 1609.0,393.7 1609.8,393.6 1610.6,388.6 1611.4,391.1 1612.2,389.7 1613.0,392.4 1613.8,395.1 1614.6,392.4 1615.4,394.9 1616.2,394.5 1617.0,393.6 1617.8,389.1 1618.6,385.9 1619.4,391.9 1620.2,392.9 1621.0,393.3 1621.8,387.6 1622.6,386.5 1623.4,388.4 1624.2,388.4 1625.0,389.8 1625.8,391.6 1626.6,394.6 1627.4,397.7 1628.2,399.1 1629.0,399.9 1629.8,397.5 1630.6,398.5 1631.4,398.7 1632.2,401.1 1633.0,401.3 1633.8,400.8 1634.6,400.6 1635.4,402.8 1636.2,400.8 1637.0,400.5 1637.8,400.2 1638.6,399.7 1639.4,400.9 1640.2,402.4 1641.0,405.5 1641.8,403.1 1642.6,403.4 1643.4,403.7 1644.2,400.3 1645.0,403.5 1645.8,399.8 1646.6,400.8 1647.4,400.6 1648.2,403.6 1649.0,399.9 1649.8,401.2 1650.6,402.2 1651.4,402.8 1652.2,403.9 1653.0,402.6 1653.8,397.9 1654.6,401.7 1655.4,401.4 1656.2,402.3 1657.0,402.8 1657.8,402.8 1658.6,403.1 1659.4,404.3 1660.2,401.5 1661.0,401.3 1661.8,400.5 1662.6,402.3 1663.4,401.8 1664.2,402.0 1665.0,402.6 1665.8,402.4 1666.6,397.2 1667.4,401.3 1668.2,403.8 1669.0,402.2 1669.8,399.0 1670.6,398.2 1671.4,397.9 1672.2,401.4 1673.0,402.8 1673.8,403.6 1674.6,410.7 1675.4,411.4 1676.2,412.7 1677.0,415.1 1677.8,415.3 1678.6,416.7 1679.4,415.1 1680.2,414.9 1681.0,417.9 1681.8,422.2 1682.6,423.0 1683.4,426.0 1684.2,427.3 1685.0,429.3 1685.8,427.8 1686.6,430.8 1687.4,429.8 1688.2,426.8 1689.0,426.9 1689.8,428.7 1690.6,427.6 1691.4,431.5 1692.2,433.5 1693.0,433.6 1693.8,431.7 1694.6,429.3 1695.4,431.7 1696.2,434.0 1697.0,437.8 1697.8,438.2 1698.6,439.7 1699.4,440.7 1700.2,443.1 1701.0,441.4 1701.8,442.5 1702.6,442.1 1703.4,445.0 1704.2,448.8 1705.0,446.6 1705.8,444.8 1706.6,444.5 1707.4,450.8 1708.2,449.3 1709.0,446.8 1709.8,450.8 1710.6,449.8 1711.4,448.1 1712.2,447.4 1713.0,449.6 1713.8,452.2 1714.6,460.4 1715.4,465.7 1716.2,467.0 1717.0,466.7 1717.8,469.0 1718.6,471.9 1719.4,474.9 1720.2,477.6 1721.0,482.0 1721.8,480.4 1722.6,486.0 1723.4,489.2 1724.2,492.8 1725.0,495.5 1725.8,498.6 1726.6,499.7 1727.4,500.6 1728.2,503.7 1729.0,508.6 1729.8,504.9 1730.6,509.3 1731.4,513.4 1732.2,513.4 1733.0,515.9 1733.8,515.9 1734.6,521.4 1735.4,521.3 1736.2,518.4 1737.0,523.2 1737.8,523.9 1738.6,528.6 1739.4,530.6 1740.2,529.5 1741.0,534.9 1741.8,533.7 1742.6,533.6 1743.4,539.1 1744.2,541.2 1745.0,541.3 1745.8,541.7 1746.6,545.5 1747.4,547.5 1748.2,547.5 1749.0,549.5 1749.8,552.1 1750.6,552.5 1751.4,555.6 1752.2,556.5 1753.0,559.5 1753.8,558.9 1754.6,560.7 1755.4,563.8 1756.2,565.2 1757.0,566.5 1757.8,564.7 1758.6,568.5 1759.4,566.5 1760.2,568.0 1761.0,571.0 1761.8,577.6 1762.6,583.3 1763.4,592.1 1764.2,603.5 1765.0,611.3 1765.8,617.7 1766.6,618.2 1767.4,617.7 1768.2,620.2 1769.0,618.8 1769.8,619.3 1770.6,622.7 1771.4,636.0 1772.2,648.5 1773.0,652.3 1773.8,656.4 1774.6,658.6 1775.4,661.5 1776.2,663.5 1777.0,667.0 1777.8,668.5 1778.6,672.2 1779.4,674.1 1780.2,677.5 1781.0,678.8 1781.8,681.0 1782.6,684.1 1783.4,687.2 1784.2,689.9 1785.0,692.0 1785.8,695.5 1786.6,699.8 1787.4,703.9 1788.2,707.9 1789.0,711.9 1789.8,716.0 1790.6,719.7 1791.4,724.5 1792.2,728.7 1793.0,731.8 1793.8,735.8 1794.6,737.9 1795.4,743.0 1796.2,747.1 1797.0,751.0 1797.8,753.8 1798.6,757.9 1799.4,760.7 1800.2,765.4 1801.0,769.3 1801.8,771.3 1802.6,773.7 1803.4,776.0 1804.2,778.9 1805.0,780.6 1805.8,782.2 1806.6,784.3 1807.4,786.9 1808.2,790.0 1809.0,790.8 1809.8,794.6 1810.6,796.4 1811.4,797.8 1812.2,802.2 1813.0,810.6 1813.8,817.9 1814.6,843.2 1815.4,921.9 1816.2,922.7 1817.0,922.2 1817.8,923.7 1818.6,924.1 1819.4,924.2 1820.2,945.9 1821.0,968.6 1821.8,981.3 1822.6,995.9 1823.4,1035.8 1824.2,1156.3 1824.2,1165.1 1823.4,1162.8 1822.6,1164.2 1821.8,1163.5 1821.0,1162.1 1820.2,1163.0 1819.4,1161.8 1818.6,1151.1 1817.8,1142.2 1817.0,1130.4 1816.2,1121.8 1815.4,1116.4 1814.6,1114.2 1813.8,1115.5 1813.0,1114.8 1812.2,1115.1 1811.4,1103.0 1810.6,1085.1 1809.8,1064.1 1809.0,1044.4 1808.2,1015.1 1807.4,947.7 1806.6,892.2 1805.8,887.6 1805.0,885.5 1804.2,883.8 1803.4,882.1 1802.6,881.7 1801.8,881.1 1801.0,878.7 1800.2,876.3 1799.4,871.6 1798.6,869.0 1797.8,865.4 1797.0,865.1 1796.2,862.0 1795.4,853.1 1794.6,844.8 1793.8,841.6 1793.0,838.8 1792.2,841.5 1791.4,840.5 1790.6,839.5 1789.8,837.4 1789.0,836.7 1788.2,825.1 1787.4,817.1 1786.6,807.7 1785.8,794.3 1785.0,791.6 1784.2,797.7 1783.4,800.3 1782.6,801.6 1781.8,803.3 1781.0,797.9 1780.2,791.7 1779.4,786.3 1778.6,779.7 1777.8,775.8 1777.0,771.7 1776.2,764.1 1775.4,758.0 1774.6,764.2 1773.8,773.6 1773.0,786.1 1772.2,792.6 1771.4,802.3 1770.6,798.0 1769.8,794.9 1769.0,794.8 1768.2,790.7 1767.4,787.2 1766.6,786.9 1765.8,785.3 1765.0,781.9 1764.2,779.3 1763.4,778.6 1762.6,775.3 1761.8,774.6 1761.0,775.3 1760.2,700.2 1759.4,665.9 1758.6,662.2 1757.8,661.1 1757.0,660.7 1756.2,661.4 1755.4,660.5 1754.6,661.7 1753.8,662.6 1753.0,660.6 1752.2,659.3 1751.4,655.3 1750.6,652.4 1749.8,652.1 1749.0,650.3 1748.2,654.3 1747.4,651.4 1746.6,654.9 1745.8,648.6 1745.0,636.3 1744.2,632.0 1743.4,639.2 1742.6,642.3 1741.8,641.7 1741.0,640.7 1740.2,640.5 1739.4,640.0 1738.6,640.3 1737.8,633.8 1737.0,622.9 1736.2,621.7 1735.4,622.7 1734.6,621.4 1733.8,623.2 1733.0,619.8 1732.2,620.6 1731.4,617.3 1730.6,609.1 1729.8,602.9 1729.0,598.0 1728.2,592.9 1727.4,590.3 1726.6,584.5 1725.8,605.3 1725.0,633.0 1724.2,633.8 1723.4,635.2 1722.6,633.3 1721.8,638.3 1721.0,634.9 1720.2,631.0 1719.4,626.8 1718.6,624.4 1717.8,622.4 1717.0,625.2 1716.2,624.0 1715.4,623.4 1714.6,622.4 1713.8,620.8 1713.0,620.9 1712.2,621.8 1711.4,595.9 1710.6,570.4 1709.8,549.1 1709.0,535.0 1708.2,536.6 1707.4,534.4 1706.6,541.3 1705.8,533.5 1705.0,533.1 1704.2,532.1 1703.4,532.5 1702.6,530.6 1701.8,528.1 1701.0,527.9 1700.2,532.8 1699.4,528.9 1698.6,523.7 1697.8,524.0 1697.0,522.7 1696.2,522.2 1695.4,525.6 1694.6,521.1 1693.8,519.0 1693.0,517.7 1692.2,517.3 1691.4,517.1 1690.6,517.2 1689.8,521.0 1689.0,519.8 1688.2,513.2 1687.4,516.3 1686.6,511.7 1685.8,511.6 1685.0,508.2 1684.2,506.7 1683.4,507.7 1682.6,506.3 1681.8,507.4 1681.0,503.6 1680.2,504.0 1679.4,546.2 1678.6,548.3 1677.8,549.5 1677.0,547.9 1676.2,543.6 1675.4,546.0 1674.6,545.7 1673.8,545.9 1673.0,545.7 1672.2,545.5 1671.4,540.4 1670.6,538.7 1669.8,538.8 1669.0,539.3 1668.2,547.2 1667.4,548.1 1666.6,545.7 1665.8,549.7 1665.0,545.0 1664.2,545.4 1663.4,546.3 1662.6,544.2 1661.8,546.3 1661.0,547.8 1660.2,491.2 1659.4,491.3 1658.6,487.3 1657.8,490.4 1657.0,487.8 1656.2,487.5 1655.4,485.0 1654.6,489.1 1653.8,485.5 1653.0,488.2 1652.2,484.7 1651.4,484.3 1650.6,487.6 1649.8,483.9 1649.0,485.5 1648.2,481.2 1647.4,481.7 1646.6,489.8 1645.8,481.8 1645.0,477.1 1644.2,480.7 1643.4,481.8 1642.6,480.7 1641.8,479.1 1641.0,479.1 1640.2,477.2 1639.4,477.9 1638.6,477.8 1637.8,477.1 1637.0,479.0 1636.2,478.5 1635.4,473.7 1634.6,481.3 1633.8,477.0 1633.0,474.2 1632.2,472.8 1631.4,472.4 1630.6,527.6 1629.8,529.4 1629.0,529.1 1628.2,525.8 1627.4,527.9 1626.6,525.8 1625.8,525.9 1625.0,525.1 1624.2,524.6 1623.4,523.5 1622.6,517.9 1621.8,518.9 1621.0,518.9 1620.2,517.7 1619.4,527.2 1618.6,529.2 1617.8,528.4 1617.0,528.3 1616.2,528.5 1615.4,528.8 1614.6,525.6 1613.8,523.6 1613.0,526.9 1612.2,528.8 1611.4,476.4 1610.6,474.5 1609.8,473.0 1609.0,474.1 1608.2,476.5 1607.4,473.8 1606.6,474.9 1605.8,472.8 1605.0,471.1 1604.2,472.0 1603.4,469.0 1602.6,469.1 1601.8,468.0 1601.0,468.5 1600.2,467.3 1599.4,467.4 1598.6,465.8 1597.8,466.0 1597.0,465.2 1596.2,463.6 1595.4,464.4 1594.6,464.6 1593.8,458.7 1593.0,460.4 1592.2,460.5 1591.4,459.5 1590.6,460.4 1589.8,461.2 1589.0,457.7 1588.2,456.3 1587.4,455.6 1586.6,454.2 1585.8,457.9 1585.0,457.5 1584.2,457.8 1583.4,456.5 1582.6,455.6 1581.8,453.1 1581.0,506.4 1580.2,501.4 1579.4,507.1 1578.6,502.1 1577.8,500.0 1577.0,502.0 1576.2,502.9 1575.4,504.0 1574.6,502.0 1573.8,493.5 1573.0,494.0 1572.2,494.7 1571.4,492.3 1570.6,508.4 1569.8,505.2 1569.0,503.6 1568.2,504.9 1567.4,505.0 1566.6,502.3 1565.8,504.8 1565.0,504.4 1564.2,502.9 1563.4,502.2 1562.6,450.6 1561.8,450.9 1561.0,448.0 1560.2,449.5 1559.4,447.5 1558.6,447.3 1557.8,452.4 1557.0,449.4 1556.2,450.3 1555.4,445.8 1554.6,445.3 1553.8,444.5 1553.0,448.3 1552.2,446.4 1551.4,448.8 1550.6,444.5 1549.8,448.6 1549.0,445.4 1548.2,444.9 1547.4,451.3 1546.6,445.9 1545.8,442.1 1545.0,440.6 1544.2,442.1 1543.4,444.2 1542.6,440.0 1541.8,438.6 1541.0,436.3 1540.2,438.0 1539.4,437.0 1538.6,437.8 1537.8,442.5 1537.0,436.8 1536.2,438.2 1535.4,437.0 1534.6,435.1 1533.8,433.0 1533.0,432.9 1532.2,479.3 1531.4,479.7 1530.6,483.4 1529.8,482.6 1529.0,480.2 1528.2,479.9 1527.4,480.8 1526.6,479.8 1525.8,477.4 1525.0,473.9 1524.2,470.2 1523.4,473.3 1522.6,471.3 1521.8,482.1 1521.0,479.5 1520.2,482.2 1519.4,477.5 1518.6,477.2 1517.8,477.8 1517.0,480.2 1516.2,478.6 1515.4,479.5 1514.6,435.5 1513.8,433.4 1513.0,435.4 1512.2,430.9 1511.4,431.9 1510.6,429.0 1509.8,427.8 1509.0,432.2 1508.2,436.2 1507.4,434.4 1506.6,432.4 1505.8,430.3 1505.0,433.7 1504.2,433.6 1503.4,431.7 1502.6,429.2 1501.8,431.3 1501.0,428.0 1500.2,427.8 1499.4,427.7 1498.6,427.5 1497.8,426.4 1497.0,428.1 1496.2,429.8 1495.4,426.3 1494.6,424.6 1493.8,421.5 1493.0,423.1 1492.2,422.2 1491.4,423.0 1490.6,423.5 1489.8,423.9 1489.0,421.7 1488.2,420.7 1487.4,419.7 1486.6,419.4 1485.8,423.8 1485.0,417.0 1484.2,419.8 1483.4,465.1 1482.6,463.5 1481.8,461.6 1481.0,463.2 1480.2,459.9 1479.4,459.4 1478.6,459.7 1477.8,461.1 1477.0,461.3 1476.2,461.5 1475.4,454.7 1474.6,453.2 1473.8,452.2 1473.0,464.6 1472.2,461.9 1471.4,461.1 1470.6,463.2 1469.8,464.4 1469.0,464.1 1468.2,463.2 1467.4,462.3 1466.6,461.0 1465.8,420.9 1465.0,419.4 1464.2,415.9 1463.4,416.1 1462.6,420.7 1461.8,419.2 1461.0,417.4 1460.2,429.7 1459.4,417.9 1458.6,414.6 1457.8,418.7 1457.0,415.6 1456.2,418.8 1455.4,413.6 1454.6,415.1 1453.8,411.4 1453.0,411.9 1452.2,410.7 1451.4,412.6 1450.6,411.3 1449.8,412.1 1449.0,410.4 1448.2,413.6 1447.4,414.3 1446.6,411.1 1445.8,411.3 1445.0,412.5 1444.2,410.4 1443.4,409.2 1442.6,408.8 1441.8,408.2 1441.0,405.5 1440.2,408.5 1439.4,405.0 1438.6,408.0 1437.8,406.3 1437.0,404.6 1436.2,404.0 1435.4,402.1 1434.6,444.3 1433.8,444.5 1433.0,445.3 1432.2,445.7 1431.4,448.3 1430.6,445.3 1429.8,446.9 1429.0,444.1 1428.2,444.8 1427.4,441.9 1426.6,436.4 1425.8,438.5 1425.0,436.1 1424.2,436.4 1423.4,444.7 1422.6,446.0 1421.8,445.1 1421.0,451.4 1420.2,445.2 1419.4,445.0 1418.6,444.7 1417.8,446.2 1417.0,412.3 1416.2,406.2 1415.4,407.1 1414.6,404.7 1413.8,407.8 1413.0,405.7 1412.2,408.0 1411.4,404.1 1410.6,405.6 1409.8,410.4 1409.0,402.1 1408.2,402.4 1407.4,400.7 1406.6,404.4 1405.8,398.8 1405.0,398.6 1404.2,403.1 1403.4,400.5 1402.6,398.8 1401.8,399.3 1401.0,398.6 1400.2,400.2 1399.4,401.7 1398.6,399.0 1397.8,401.5 1397.0,401.2 1396.2,397.7 1395.4,398.3 1394.6,400.7 1393.8,397.4 1393.0,396.0 1392.2,396.6 1391.4,396.8 1390.6,396.0 1389.8,393.7 1389.0,394.7 1388.2,395.5 1387.4,391.4 1386.6,392.1 1385.8,428.9 1385.0,429.2 1384.2,428.7 1383.4,431.8 1382.6,429.6 1381.8,431.0 1381.0,429.8 1380.2,428.8 1379.4,428.3 1378.6,428.2 1377.8,424.5 1377.0,423.2 1376.2,425.4 1375.4,425.9 1374.6,434.6 1373.8,433.3 1373.0,432.7 1372.2,433.8 1371.4,436.0 1370.6,430.4 1369.8,432.1 1369.0,432.3 1368.2,396.2 1367.4,394.3 1366.6,399.1 1365.8,396.8 1365.0,396.5 1364.2,398.5 1363.4,396.2 1362.6,395.7 1361.8,397.9 1361.0,390.6 1360.2,394.5 1359.4,391.1 1358.6,392.3 1357.8,394.6 1357.0,391.1 1356.2,390.1 1355.4,389.3 1354.6,388.7 1353.8,387.5 1353.0,387.7 1352.2,389.6 1351.4,388.3 1350.6,391.5 1349.8,390.3 1349.0,388.3 1348.2,387.4 1347.4,388.2 1346.6,386.2 1345.8,385.4 1345.0,385.1 1344.2,385.9 1343.4,383.2 1342.6,382.5 1341.8,385.5 1341.0,378.4 1340.2,383.0 1339.4,384.3 1338.6,384.2 1337.8,387.3 1337.0,381.4 1336.2,418.6 1335.4,418.2 1334.6,417.2 1333.8,417.2 1333.0,416.2 1332.2,416.9 1331.4,415.5 1330.6,416.4 1329.8,415.6 1329.0,409.4 1328.2,409.1 1327.4,411.2 1326.6,408.8 1325.8,419.9 1325.0,420.4 1324.2,420.9 1323.4,422.7 1322.6,420.5 1321.8,421.6 1321.0,418.4 1320.2,417.1 1319.4,379.3 1318.6,382.1 1317.8,381.8 1317.0,381.9 1316.2,382.7 1315.4,381.0 1314.6,385.5 1313.8,381.6 1313.0,380.4 1312.2,381.0 1311.4,379.0 1310.6,378.8 1309.8,380.4 1309.0,377.9 1308.2,387.2 1307.4,377.2 1306.6,376.0 1305.8,379.1 1305.0,374.1 1304.2,376.9 1303.4,375.8 1302.6,377.2 1301.8,373.8 1301.0,376.6 1300.2,379.0 1299.4,374.8 1298.6,372.1 1297.8,372.5 1297.0,373.7 1296.2,373.5 1295.4,371.5 1294.6,369.7 1293.8,382.6 1293.0,370.9 1292.2,369.0 1291.4,368.5 1290.6,367.4 1289.8,362.9 1289.0,365.7 1288.2,364.3 1287.4,403.1 1286.6,408.1 1285.8,405.2 1285.0,404.1 1284.2,403.1 1283.4,405.8 1282.6,405.3 1281.8,403.8 1281.0,406.4 1280.2,401.6 1279.4,398.6 1278.6,398.3 1277.8,397.9 1277.0,409.1 1276.2,406.2 1275.4,406.6 1274.6,405.4 1273.8,406.7 1273.0,406.4 1272.2,406.1 1271.4,406.2 1270.6,374.7 1269.8,370.7 1269.0,373.7 1268.2,369.6 1267.4,370.4 1266.6,371.8 1265.8,367.9 1265.0,367.2 1264.2,369.7 1263.4,372.5 1262.6,369.0 1261.8,367.1 1261.0,367.2 1260.2,367.2 1259.4,364.5 1258.6,366.0 1257.8,365.9 1257.0,364.7 1256.2,365.6 1255.4,362.9 1254.6,365.5 1253.8,364.6 1253.0,374.7 1252.2,364.3 1251.4,362.9 1250.6,365.0 1249.8,363.5 1249.0,363.3 1248.2,363.9 1247.4,364.0 1246.6,362.3 1245.8,364.3 1245.0,359.8 1244.2,361.1 1243.4,360.0 1242.6,358.1 1241.8,360.5 1241.0,362.6 1240.2,356.3 1239.4,356.5 1238.6,396.7 1237.8,397.0 1237.0,393.5 1236.2,392.1 1235.4,392.0 1234.6,392.2 1233.8,393.1 1233.0,392.5 1232.2,391.3 1231.4,387.0 1230.6,388.2 1229.8,386.5 1229.0,389.6 1228.2,396.5 1227.4,396.3 1226.6,398.3 1225.8,396.2 1225.0,396.4 1224.2,394.2 1223.4,395.8 1222.6,395.8 1221.8,358.5 1221.0,358.6 1220.2,360.4 1219.4,360.5 1218.6,361.1 1217.8,365.1 1217.0,361.7 1216.2,361.5 1215.4,362.9 1214.6,364.4 1213.8,363.7 1213.0,357.8 1212.2,358.1 1211.4,357.8 1210.6,356.5 1209.8,355.6 1209.0,356.7 1208.2,357.2 1207.4,357.1 1206.6,355.4 1205.8,360.4 1205.0,357.8 1204.2,360.0 1203.4,357.3 1202.6,359.5 1201.8,359.8 1201.0,356.1 1200.2,352.8 1199.4,353.3 1198.6,352.5 1197.8,352.9 1197.0,353.9 1196.2,351.7 1195.4,348.9 1194.6,349.1 1193.8,357.4 1193.0,353.8 1192.2,354.9 1191.4,353.9 1190.6,350.7 1189.8,385.8 1189.0,385.9 1188.2,384.4 1187.4,386.5 1186.6,384.8 1185.8,385.9 1185.0,383.4 1184.2,383.9 1183.4,383.6 1182.6,379.2 1181.8,378.9 1181.0,378.8 1180.2,379.6 1179.4,389.3 1178.6,388.1 1177.8,389.2 1177.0,387.5 1176.2,387.6 1175.4,389.5 1174.6,392.9 1173.8,390.5 1173.0,357.5 1172.2,357.0 1171.4,356.3 1170.6,357.0 1169.8,363.2 1169.0,355.5 1168.2,357.8 1167.4,356.8 1166.6,356.6 1165.8,360.7 1165.0,354.5 1164.2,355.5 1163.4,353.8 1162.6,353.3 1161.8,355.4 1161.0,354.3 1160.2,356.9 1159.4,355.9 1158.6,357.7 1157.8,354.8 1157.0,360.3 1156.2,355.3 1155.4,356.0 1154.6,353.4 1153.8,356.3 1153.0,353.3 1152.2,352.3 1151.4,349.8 1150.6,352.2 1149.8,350.4 1149.0,349.6 1148.2,351.4 1147.4,348.7 1146.6,351.6 1145.8,349.8 1145.0,348.7 1144.2,350.7 1143.4,344.7 1142.6,345.1 1141.8,345.7 1141.0,343.4 1140.2,380.7 1139.4,380.0 1138.6,381.7 1137.8,380.8 1137.0,379.5 1136.2,377.5 1135.4,381.4 1134.6,380.0 1133.8,373.4 1133.0,373.9 1132.2,373.9 1131.4,373.4 1130.6,384.9 1129.8,383.6 1129.0,386.8 1128.2,387.0 1127.4,385.9 1126.6,388.6 1125.8,386.7 1125.0,387.3 1124.2,356.0 1123.4,354.3 1122.6,351.3 1121.8,352.2 1121.0,353.2 1120.2,351.9 1119.4,352.1 1118.6,354.4 1117.8,351.7 1117.0,352.9 1116.2,350.8 1115.4,353.5 1114.6,347.9 1113.8,351.3 1113.0,352.3 1112.2,350.1 1111.4,351.7 1110.6,351.1 1109.8,352.5 1109.0,357.4 1108.2,348.1 1107.4,347.8 1106.6,345.4 1105.8,349.4 1105.0,349.2 1104.2,347.5 1103.4,348.1 1102.6,349.7 1101.8,351.3 1101.0,349.8 1100.2,348.2 1099.4,346.4 1098.6,347.0 1097.8,347.8 1097.0,345.1 1096.2,344.9 1095.4,347.5 1094.6,349.5 1093.8,345.8 1093.0,346.9 1092.2,349.0 1091.4,377.2 1090.6,377.0 1089.8,376.3 1089.0,377.8 1088.2,379.4 1087.4,378.9 1086.6,376.0 1085.8,378.6 1085.0,370.9 1084.2,369.9 1083.4,371.6 1082.6,370.4 1081.8,380.3 1081.0,382.4 1080.2,383.4 1079.4,381.6 1078.6,380.1 1077.8,379.9 1077.0,382.4 1076.2,380.2 1075.4,352.7 1074.6,350.9 1073.8,349.9 1073.0,351.1 1072.2,349.2 1071.4,350.0 1070.6,351.6 1069.8,351.1 1069.0,351.5 1068.2,355.3 1067.4,351.4 1066.6,355.2 1065.8,353.7 1065.0,350.0 1064.2,352.3 1063.4,349.9 1062.6,349.6 1061.8,348.6 1061.0,346.6 1060.2,345.6 1059.4,347.3 1058.6,344.6 1057.8,344.7 1057.0,346.2 1056.2,345.3 1055.4,346.2 1054.6,346.8 1053.8,347.0 1053.0,346.4 1052.2,344.9 1051.4,344.7 1050.6,343.8 1049.8,342.4 1049.0,344.6 1048.2,346.3 1047.4,345.6 1046.6,345.6 1045.8,346.5 1045.0,344.5 1044.2,345.6 1043.4,346.0 1042.6,375.2 1041.8,376.2 1041.0,376.8 1040.2,374.1 1039.4,376.1 1038.6,373.9 1037.8,375.0 1037.0,375.0 1036.2,375.1 1035.4,366.8 1034.6,366.4 1033.8,365.6 1033.0,375.9 1032.2,377.0 1031.4,377.8 1030.6,377.7 1029.8,380.5 1029.0,380.2 1028.2,378.4 1027.4,378.1 1026.6,348.7 1025.8,347.7 1025.0,346.8 1024.2,350.2 1023.4,349.9 1022.6,347.9 1021.8,349.0 1021.0,352.6 1020.2,352.4 1019.4,349.3 1018.6,349.0 1017.8,349.5 1017.0,350.8 1016.2,348.0 1015.4,347.0 1014.6,347.9 1013.8,344.3 1013.0,348.9 1012.2,349.9 1011.4,347.3 1010.6,349.7 1009.8,349.0 1009.0,355.1 1008.2,348.7 1007.4,347.6 1006.6,349.1 1005.8,348.4 1005.0,345.8 1004.2,344.6 1003.4,342.7 1002.6,342.3 1001.8,340.7 1001.0,340.2 1000.2,340.0 999.4,343.6 998.6,339.9 997.8,340.6 997.0,338.8 996.2,339.6 995.4,342.1 994.6,340.4 993.8,370.1 993.0,371.0 992.2,373.8 991.4,371.0 990.6,370.7 989.8,372.1 989.0,373.7 988.2,369.9 987.4,370.2 986.6,365.7 985.8,367.4 985.0,363.2 984.2,375.1 983.4,376.0 982.6,374.3 981.8,377.3 981.0,374.8 980.2,377.8 979.4,373.8 978.6,378.4 977.8,345.7 977.0,346.7 976.2,346.8 975.4,346.0 974.6,346.8 973.8,348.4 973.0,350.0 972.2,354.1 971.4,346.9 970.6,345.4 969.8,346.4 969.0,347.6 968.2,345.1 967.4,344.8 966.6,346.5 965.8,345.3 965.0,343.3 964.2,347.3 963.4,347.1 962.6,345.8 961.8,345.6 961.0,343.5 960.2,343.0 959.4,342.3 958.6,341.4 957.8,338.3 957.0,337.8 956.2,341.0 955.4,337.2 954.6,341.3 953.8,338.8 953.0,340.9 952.2,338.9 951.4,337.5 950.6,335.4 949.8,336.8 949.0,337.6 948.2,337.5 947.4,341.1 946.6,338.1 945.8,335.3 945.0,371.0 944.2,368.0 943.4,369.6 942.6,368.1 941.8,368.4 941.0,367.5 940.2,366.1 939.4,367.8 938.6,366.8 937.8,363.1 937.0,362.4 936.2,360.7 935.4,372.7 934.6,373.0 933.8,370.2 933.0,370.2 932.2,370.9 931.4,370.1 930.6,375.3 929.8,370.7 929.0,342.0 928.2,343.3 927.4,345.4 926.6,342.4 925.8,342.8 925.0,346.6 924.2,345.8 923.4,345.5 922.6,345.3 921.8,345.6 921.0,346.4 920.2,342.6 919.4,344.3 918.6,342.9 917.8,341.7 917.0,342.5 916.2,341.1 915.4,340.9 914.6,341.8 913.8,340.5 913.0,341.0 912.2,343.4 911.4,342.7 910.6,341.4 909.8,341.2 909.0,343.1 908.2,347.6 907.4,338.1 906.6,338.0 905.8,335.8 905.0,339.0 904.2,336.3 903.4,336.1 902.6,339.2 901.8,339.7 901.0,335.9 900.2,334.7 899.4,338.8 898.6,335.5 897.8,334.4 897.0,335.0 896.2,363.8 895.4,364.1 894.6,363.4 893.8,364.3 893.0,365.3 892.2,363.6 891.4,368.3 890.6,365.5 889.8,365.7 889.0,360.2 888.2,359.4 887.4,356.7 886.6,367.3 885.8,369.3 885.0,366.9 884.2,368.4 883.4,366.6 882.6,367.9 881.8,367.1 881.0,367.6 880.2,342.0 879.4,339.8 878.6,344.3 877.8,339.4 877.0,338.1 876.2,340.7 875.4,344.3 874.6,339.6 873.8,341.4 873.0,339.4 872.2,336.9 871.4,338.2 870.6,338.2 869.8,340.1 869.0,339.2 868.2,340.8 867.4,338.4 866.6,337.9 865.8,338.3 865.0,337.2 864.2,337.4 863.4,335.9 862.6,338.7 861.8,335.6 861.0,339.8 860.2,335.9 859.4,337.8 858.6,337.1 857.8,336.8 857.0,336.2 856.2,336.7 855.4,335.9 854.6,334.7 853.8,332.9 853.0,335.8 852.2,333.3 851.4,330.9 850.6,330.9 849.8,332.6 849.0,330.0 848.2,332.0 847.4,359.7 846.6,360.5 845.8,360.5 845.0,358.8 844.2,359.0 843.4,358.9 842.6,359.9 841.8,360.5 841.0,362.5 840.2,353.1 839.4,353.6 838.6,354.1 837.8,365.5 837.0,365.2 836.2,366.1 835.4,365.3 834.6,365.2 833.8,363.5 833.0,365.6 832.2,363.7 831.4,340.2 830.6,338.5 829.8,337.6 829.0,335.8 828.2,337.8 827.4,334.1 826.6,334.4 825.8,336.6 825.0,338.0 824.2,337.3 823.4,336.4 822.6,336.2 821.8,335.9 821.0,334.5 820.2,336.2 819.4,335.9 818.6,334.6 817.8,336.7 817.0,336.9 816.2,337.2 815.4,335.9 814.6,332.8 813.8,331.6 813.0,330.7 812.2,329.7 811.4,330.3 810.6,328.7 809.8,332.6 809.0,329.4 808.2,330.8 807.4,329.7 806.6,328.8 805.8,329.1 805.0,329.2 804.2,327.1 803.4,328.9 802.6,326.3 801.8,326.1 801.0,327.2 800.2,329.5 799.4,324.0 798.6,352.4 797.8,353.5 797.0,352.7 796.2,356.1 795.4,354.7 794.6,354.1 793.8,354.5 793.0,357.4 792.2,357.2 791.4,349.0 790.6,348.5 789.8,349.1 789.0,358.5 788.2,358.3 787.4,358.9 786.6,359.3 785.8,358.9 785.0,357.8 784.2,358.3 783.4,358.3 782.6,330.1 781.8,329.2 781.0,333.8 780.2,330.6 779.4,338.8 778.6,329.4 777.8,330.1 777.0,330.8 776.2,329.1 775.4,328.5 774.6,331.1 773.8,329.5 773.0,326.8 772.2,330.8 771.4,328.5 770.6,325.6 769.8,330.5 769.0,328.3 768.2,325.8 767.4,326.6 766.6,325.0 765.8,323.7 765.0,329.6 764.2,324.7 763.4,326.2 762.6,325.2 761.8,326.4 761.0,328.0 760.2,330.5 759.4,325.1 758.6,324.2 757.8,325.2 757.0,322.1 756.2,323.4 755.4,321.2 754.6,319.4 753.8,318.6 753.0,320.3 752.2,324.2 751.4,315.9 750.6,317.4 749.8,344.6 749.0,347.5 748.2,349.4 747.4,347.0 746.6,350.1 745.8,348.8 745.0,349.8 744.2,348.7 743.4,348.0 742.6,341.6 741.8,339.7 741.0,342.5 740.2,351.4 739.4,349.2 738.6,349.4 737.8,353.8 737.0,352.5 736.2,351.9 735.4,352.0 734.6,351.4 733.8,321.5 733.0,323.9 732.2,321.0 731.4,320.9 730.6,321.7 729.8,322.6 729.0,322.2 728.2,321.8 727.4,321.1 726.6,321.6 725.8,320.7 725.0,318.8 724.2,316.9 723.4,316.9 722.6,320.2 721.8,319.6 721.0,317.6 720.2,317.8 719.4,326.0 718.6,321.3 717.8,315.3 717.0,314.7 716.2,314.2 715.4,317.2 714.6,318.3 713.8,318.1 713.0,316.6 712.2,314.0 711.4,314.4 710.6,315.6 709.8,312.7 709.0,312.3 708.2,313.5 707.4,311.0 706.6,310.6 705.8,311.8 705.0,310.1 704.2,308.8 703.4,309.0 702.6,307.6 701.8,307.8 701.0,335.8 700.2,335.3 699.4,338.0 698.6,335.4 697.8,335.3 697.0,334.0 696.2,333.9 695.4,333.2 694.6,333.8 693.8,327.0 693.0,330.1 692.2,328.2 691.4,340.3 690.6,341.1 689.8,339.0 689.0,340.5 688.2,341.2 687.4,341.7 686.6,341.8 685.8,339.3 685.0,312.3 684.2,313.8 683.4,310.7 682.6,311.2 681.8,312.5 681.0,309.8 680.2,311.6 679.4,311.5 678.6,311.3 677.8,311.4 677.0,310.4 676.2,310.1 675.4,308.7 674.6,310.2 673.8,310.4 673.0,307.8 672.2,306.4 671.4,307.6 670.6,305.9 669.8,305.8 669.0,310.3 668.2,308.6 667.4,304.7 666.6,305.8 665.8,308.6 665.0,304.2 664.2,306.2 663.4,306.7 662.6,306.6 661.8,307.8 661.0,305.1 660.2,301.5 659.4,301.5 658.6,300.4 657.8,302.5 657.0,303.8 656.2,301.6 655.4,301.5 654.6,300.6 653.8,298.6 653.0,298.8 652.2,326.5 651.4,328.7 650.6,327.0 649.8,326.0 649.0,328.4 648.2,327.7 647.4,326.0 646.6,325.3 645.8,326.6 645.0,318.4 644.2,318.4 643.4,319.4 642.6,328.7 641.8,329.2 641.0,331.4 640.2,330.0 639.4,329.8 638.6,330.9 637.8,333.5 637.0,332.0 636.2,306.2 635.4,305.9 634.6,306.4 633.8,304.8 633.0,309.1 632.2,313.1 631.4,308.9 630.6,307.6 629.8,306.7 629.0,308.4 628.2,304.5 627.4,310.6 626.6,303.9 625.8,303.6 625.0,304.1 624.2,302.2 623.4,302.0 622.6,303.4 621.8,304.7 621.0,302.0 620.2,302.7 619.4,300.2 618.6,300.8 617.8,301.8 617.0,303.5 616.2,304.4 615.4,303.4 614.6,302.2 613.8,304.5 613.0,301.3 612.2,301.6 611.4,299.3 610.6,299.6 609.8,300.9 609.0,299.3 608.2,308.9 607.4,297.4 606.6,295.8 605.8,295.7 605.0,293.7 604.2,295.2 603.4,320.9 602.6,322.3 601.8,320.1 601.0,321.1 600.2,319.8 599.4,321.2 598.6,323.1 597.8,322.4 597.0,322.6 596.2,316.9 595.4,317.3 594.6,317.4 593.8,327.7 593.0,327.1 592.2,325.9 591.4,325.2 590.6,324.6 589.8,325.1 589.0,324.7 588.2,327.4 587.4,301.4 586.6,308.0 585.8,303.1 585.0,304.3 584.2,308.4 583.4,308.5 582.6,304.5 581.8,305.0 581.0,306.4 580.2,303.1 579.4,301.7 578.6,301.1 577.8,302.1 577.0,301.0 576.2,301.7 575.4,301.4 574.6,299.4 573.8,298.3 573.0,304.2 572.2,300.5 571.4,301.6 570.6,296.8 569.8,298.1 569.0,298.3 568.2,298.6 567.4,296.6 566.6,296.2 565.8,294.3 565.0,295.9 564.2,300.6 563.4,294.0 562.6,294.7 561.8,296.9 561.0,294.8 560.2,296.4 559.4,295.1 558.6,294.1 557.8,292.3 557.0,292.6 556.2,293.5 555.4,292.9 554.6,320.9 553.8,318.4 553.0,320.6 552.2,318.3 551.4,318.7 550.6,319.8 549.8,319.1 549.0,320.1 548.2,319.4 547.4,314.1 546.6,312.5 545.8,312.4 545.0,324.0 544.2,323.3 543.4,323.6 542.6,325.5 541.8,324.3 541.0,326.5 540.2,323.6 539.4,301.7 538.6,300.6 537.8,299.7 537.0,299.9 536.2,302.3 535.4,300.6 534.6,301.5 533.8,299.3 533.0,296.9 532.2,298.1 531.4,306.4 530.6,296.1 529.8,296.0 529.0,299.0 528.2,296.9 527.4,297.4 526.6,296.3 525.8,296.4 525.0,297.0 524.2,297.7 523.4,298.4 522.6,295.7 521.8,296.1 521.0,293.4 520.2,299.3 519.4,292.0 518.6,295.3 517.8,293.8 517.0,293.4 516.2,291.4 515.4,293.9 514.6,291.9 513.8,290.5 513.0,290.6 512.2,289.5 511.4,288.8 510.6,289.3 509.8,292.2 509.0,291.9 508.2,292.4 507.4,290.6 506.6,288.9 505.8,317.1 505.0,316.0 504.2,316.2 503.4,315.1 502.6,316.0 501.8,317.3 501.0,316.2 500.2,317.1 499.4,308.8 498.6,310.4 497.8,309.9 497.0,308.1 496.2,319.9 495.4,318.6 494.6,318.3 493.8,319.5 493.0,322.8 492.2,321.0 491.4,322.1 490.6,297.5 489.8,296.1 489.0,297.2 488.2,294.4 487.4,293.9 486.6,294.9 485.8,295.5 485.0,298.1 484.2,294.2 483.4,294.6 482.6,293.5 481.8,296.2 481.0,297.4 480.2,296.0 479.4,294.2 478.6,294.7 477.8,295.7 477.0,297.3 476.2,294.9 475.4,298.1 474.6,298.7 473.8,296.1 473.0,294.0 472.2,293.1 471.4,295.6 470.6,297.9 469.8,293.9 469.0,293.4 468.2,292.9 467.4,294.0 466.6,291.5 465.8,291.3 465.0,291.9 464.2,290.3 463.4,287.5 462.6,288.7 461.8,292.0 461.0,287.4 460.2,287.9 459.4,288.9 458.6,290.2 457.8,290.7 457.0,320.5 456.2,317.7 455.4,316.4 454.6,317.2 453.8,314.5 453.0,315.6 452.2,314.0 451.4,315.8 450.6,307.5 449.8,307.9 449.0,308.3 448.2,312.4 447.4,320.2 446.6,321.0 445.8,322.3 445.0,318.8 444.2,319.5 443.4,318.5 442.6,321.4 441.8,296.0 441.0,296.3 440.2,300.9 439.4,299.3 438.6,300.1 437.8,296.2 437.0,294.3 436.2,294.9 435.4,301.3 434.6,294.5 433.8,296.3 433.0,296.3 432.2,296.8 431.4,295.7 430.6,292.4 429.8,293.3 429.0,292.1 428.2,292.2 427.4,294.1 426.6,297.1 425.8,291.5 425.0,291.3 424.2,290.8 423.4,292.7 422.6,287.8 421.8,291.3 421.0,289.2 420.2,295.2 419.4,288.4 418.6,291.2 417.8,292.4 417.0,294.3 416.2,291.4 415.4,290.4 414.6,287.0 413.8,285.9 413.0,286.8 412.2,286.2 411.4,287.5 410.6,287.3 409.8,288.1 409.0,286.1 408.2,313.9 407.4,313.2 406.6,315.5 405.8,312.5 405.0,312.1 404.2,312.6 403.4,311.3 402.6,311.4 401.8,306.1 401.0,308.0 400.2,305.5 399.4,306.2 398.6,316.9 397.8,315.6 397.0,317.2 396.2,316.8 395.4,317.3 394.6,322.3 393.8,316.2 393.0,293.4 392.2,291.4 391.4,293.2 390.6,289.1 389.8,291.4 389.0,290.1 388.2,301.7 387.4,292.8 386.6,292.7 385.8,294.8 385.0,294.1 384.2,293.8 383.4,293.0 382.6,294.1 381.8,292.6 381.0,292.8 380.2,291.8 379.4,292.8 378.6,293.6 377.8,289.3 377.0,287.0 376.2,287.0 375.4,292.7 374.6,286.7 373.8,291.4 373.0,291.1 372.2,292.2 371.4,292.0 370.6,290.8 369.8,288.5 369.0,289.0 368.2,287.6 367.4,290.5 366.6,285.8 365.8,286.0 365.0,285.3 364.2,283.5 363.4,284.2 362.6,286.6 361.8,287.3 361.0,290.6 360.2,284.9 359.4,309.8 358.6,309.0 357.8,310.5 357.0,309.5 356.2,310.1 355.4,311.5 354.6,308.2 353.8,311.9 353.0,303.8 352.2,304.3 351.4,302.8 350.6,303.8 349.8,314.1 349.0,313.4 348.2,314.2 347.4,312.9 346.6,314.5 345.8,313.7 345.0,313.4 344.2,293.3 343.4,301.6 342.6,291.6 341.8,292.1 341.0,292.6 340.2,290.4 339.4,289.9 338.6,292.0 337.8,291.3 337.0,291.6 336.2,289.6 335.4,289.5 334.6,290.0 333.8,289.3 333.0,289.0 332.2,289.6 331.4,290.1 330.6,292.6 329.8,292.0 329.0,291.3 328.2,291.5 327.4,290.3 326.6,288.5 325.8,291.4 325.0,289.6 324.2,289.5 323.4,296.5 322.6,287.7 321.8,289.1 321.0,289.2 320.2,288.3 319.4,285.9 318.6,286.4 317.8,284.3 317.0,283.4 316.2,285.1 315.4,285.2 314.6,284.6 313.8,285.4 313.0,284.2 312.2,282.8 311.4,281.4 310.6,286.9 309.8,286.7 309.0,286.3 308.2,286.0 307.4,307.2 306.6,306.8 305.8,306.8 305.0,309.1 304.2,308.0 303.4,307.3 302.6,306.4 301.8,300.1 301.0,302.0 300.2,299.5 299.4,300.4 298.6,310.8 297.8,310.9 297.0,310.6 296.2,311.2 295.4,311.3 294.6,309.9 293.8,309.4 293.0,311.4 292.2,309.6 291.4,312.5 290.6,310.3 289.8,312.2 289.0,310.6 288.2,310.7 287.4,310.0" fill="#2469de"/>
<polygon points="287.4,226.8 288.2,223.1 289.0,223.4 289.8,225.5 290.6,226.2 291.4,226.2 292.2,227.8 293.0,237.8 293.8,236.4 294.6,234.6 295.4,234.6 296.2,237.1 297.0,232.7 297.8,234.7 298.6,232.2 299.4,234.1 300.2,233.7 301.0,239.1 301.8,236.3 302.6,237.3 303.4,238.7 304.2,236.1 305.0,233.8 305.8,236.3 306.6,235.3 307.4,237.6 308.2,237.8 309.0,242.8 309.8,243.1 310.6,245.4 311.4,244.2 312.2,243.4 313.0,244.1 313.8,245.5 314.6,243.9 315.4,244.4 316.2,244.1 317.0,242.0 317.8,244.1 318.6,244.6 319.4,245.7 320.2,246.5 321.0,244.8 321.8,244.8 322.6,246.1 323.4,247.2 324.2,243.7 325.0,247.2 325.8,247.4 326.6,246.3 327.4,243.7 328.2,246.2 329.0,246.4 329.8,246.5 330.6,247.7 331.4,246.9 332.2,248.6 333.0,248.5 333.8,245.7 334.6,247.5 335.4,247.5 336.2,246.5 337.0,248.1 337.8,248.4 338.6,247.7 339.4,245.5 340.2,246.1 341.0,246.2 341.8,243.6 342.6,241.9 343.4,242.0 344.2,240.7 345.0,240.1 345.8,238.3 346.6,235.5 347.4,235.7 348.2,238.9 349.0,240.8 349.8,241.3 350.6,240.6 351.4,241.8 352.2,240.6 353.0,240.4 353.8,241.7 354.6,241.7 355.4,241.4 356.2,241.0 357.0,242.0 357.8,245.1 358.6,241.5 359.4,241.0 360.2,241.4 361.0,245.4 361.8,246.3 362.6,245.1 363.4,248.5 364.2,248.6 365.0,249.9 365.8,250.9 366.6,250.7 367.4,249.7 368.2,250.3 369.0,251.3 369.8,250.7 370.6,250.4 371.4,247.3 372.2,248.2 373.0,247.9 373.8,251.6 374.6,250.4 375.4,250.7 376.2,253.3 377.0,247.4 377.8,251.5 378.6,249.4 379.4,246.0 380.2,246.4 381.0,244.0 381.8,249.0 382.6,248.6 383.4,250.1 384.2,250.0 385.0,251.0 385.8,250.0 386.6,251.0 387.4,247.3 388.2,250.1 389.0,248.1 389.8,248.6 390.6,246.9 391.4,241.9 392.2,243.1 393.0,240.8 393.8,244.4 394.6,244.1 395.4,242.1 396.2,242.5 397.0,244.5 397.8,242.1 398.6,242.3 399.4,240.4 400.2,239.9 401.0,241.3 401.8,240.6 402.6,239.3 403.4,242.6 404.2,244.1 405.0,244.1 405.8,240.1 406.6,245.2 407.4,246.0 408.2,245.1 409.0,248.8 409.8,248.4 410.6,248.6 411.4,246.1 412.2,249.4 413.0,246.7 413.8,247.0 414.6,251.0 415.4,251.2 416.2,250.2 417.0,249.3 417.8,249.3 418.6,249.2 419.4,250.5 420.2,248.5 421.0,251.9 421.8,250.4 422.6,252.0 423.4,252.0 424.2,250.2 425.0,249.6 425.8,250.2 426.6,250.6 427.4,250.6 428.2,249.6 429.0,250.9 429.8,250.2 430.6,249.9 431.4,251.1 432.2,249.6 433.0,248.8 433.8,249.9 434.6,250.2 435.4,250.5 436.2,252.2 437.0,249.3 437.8,249.6 438.6,248.4 439.4,244.5 440.2,240.6 441.0,240.8 441.8,242.1 442.6,238.4 443.4,240.4 444.2,238.2 445.0,237.9 445.8,235.8 446.6,242.5 447.4,243.2 448.2,240.5 449.0,242.2 449.8,240.4 450.6,236.2 451.4,243.1 452.2,241.7 453.0,246.0 453.8,244.7 454.6,247.1 455.4,246.2 456.2,244.3 457.0,247.0 457.8,249.0 458.6,250.1 459.4,251.7 460.2,249.1 461.0,250.7 461.8,251.5 462.6,250.9 463.4,250.3 464.2,250.9 465.0,251.0 465.8,246.9 466.6,250.5 467.4,249.7 468.2,250.8 469.0,248.9 469.8,246.9 470.6,248.9 471.4,249.9 472.2,246.9 473.0,250.8 473.8,249.1 474.6,249.5 475.4,244.9 476.2,250.1 477.0,249.4 477.8,249.6 478.6,251.1 479.4,250.5 480.2,250.1 481.0,249.0 481.8,251.5 482.6,251.4 483.4,250.7 484.2,248.3 485.0,245.8 485.8,248.5 486.6,247.8 487.4,246.7 488.2,246.1 489.0,245.7 489.8,244.4 490.6,242.0 491.4,240.6 492.2,241.0 493.0,240.8 493.8,241.9 494.6,238.8 495.4,241.1 496.2,241.2 497.0,237.9 497.8,240.5 498.6,244.7 499.4,246.0 500.2,241.3 501.0,242.6 501.8,244.7 502.6,243.9 503.4,245.3 504.2,247.6 505.0,244.1 505.8,249.2 506.6,251.2 507.4,251.7 508.2,252.4 509.0,254.1 509.8,251.8 510.6,253.3 511.4,250.9 512.2,253.9 513.0,252.8 513.8,252.3 514.6,250.3 515.4,251.1 516.2,248.9 517.0,252.0 517.8,251.2 518.6,252.4 519.4,252.2 520.2,251.4 521.0,251.3 521.8,253.3 522.6,249.5 523.4,250.7 524.2,255.0 525.0,252.8 525.8,255.4 526.6,254.7 527.4,254.1 528.2,250.0 529.0,251.5 529.8,243.6 530.6,248.9 531.4,251.9 532.2,251.5 533.0,251.2 533.8,247.3 534.6,249.1 535.4,249.6 536.2,250.2 537.0,245.9 537.8,244.3 538.6,248.6 539.4,238.9 540.2,245.6 541.0,242.5 541.8,244.8 542.6,242.3 543.4,242.5 544.2,246.7 545.0,246.0 545.8,247.5 546.6,240.8 547.4,246.2 548.2,240.5 549.0,244.6 549.8,243.5 550.6,242.9 551.4,243.9 552.2,240.0 553.0,245.7 553.8,246.4 554.6,250.6 555.4,251.7 556.2,251.8 557.0,249.2 557.8,251.9 558.6,252.1 559.4,247.7 560.2,249.8 561.0,249.3 561.8,247.2 562.6,248.7 563.4,249.1 564.2,244.7 565.0,249.5 565.8,250.8 566.6,251.1 567.4,250.5 568.2,251.4 569.0,252.6 569.8,247.6 570.6,252.6 571.4,252.5 572.2,250.8 573.0,248.7 573.8,249.4 574.6,250.3 575.4,248.6 576.2,252.0 577.0,255.0 577.8,253.9 578.6,256.3 579.4,254.0 580.2,251.9 581.0,254.3 581.8,253.6 582.6,254.2 583.4,254.9 584.2,252.5 585.0,250.9 585.8,250.1 586.6,248.1 587.4,245.2 588.2,245.1 589.0,245.7 589.8,240.6 590.6,242.6 591.4,242.3 592.2,243.7 593.0,246.5 593.8,247.1 594.6,248.1 595.4,247.1 596.2,247.4 597.0,243.2 597.8,249.0 598.6,247.7 599.4,245.7 600.2,244.2 601.0,249.7 601.8,248.2 602.6,250.6 603.4,251.0 604.2,253.1 605.0,251.9 605.8,254.7 606.6,255.1 607.4,255.3 608.2,255.5 609.0,254.3 609.8,255.7 610.6,255.2 611.4,256.9 612.2,256.0 613.0,255.2 613.8,256.8 614.6,254.0 615.4,252.0 616.2,252.2 617.0,251.3 617.8,253.9 618.6,256.8 619.4,256.7 620.2,258.4 621.0,257.0 621.8,258.0 622.6,254.6 623.4,258.9 624.2,255.8 625.0,259.7 625.8,257.5 626.6,256.1 627.4,257.5 628.2,257.5 629.0,253.5 629.8,254.6 630.6,251.0 631.4,253.1 632.2,252.8 633.0,255.4 633.8,255.7 634.6,255.3 635.4,249.9 636.2,246.0 637.0,248.7 637.8,250.7 638.6,248.3 639.4,249.4 640.2,250.2 641.0,250.2 641.8,248.4 642.6,250.0 643.4,251.4 644.2,248.9 645.0,245.7 645.8,250.1 646.6,250.3 647.4,252.0 648.2,250.4 649.0,252.2 649.8,250.6 650.6,249.7 651.4,254.9 652.2,257.2 653.0,257.1 653.8,254.3 654.6,260.4 655.4,257.2 656.2,254.2 657.0,257.2 657.8,258.1 658.6,257.6 659.4,253.1 660.2,255.8 661.0,254.5 661.8,257.4 662.6,257.7 663.4,257.4 664.2,256.6 665.0,258.2 665.8,258.2 666.6,260.0 667.4,260.3 668.2,259.8 669.0,257.9 669.8,261.1 670.6,259.2 671.4,259.5 672.2,259.4 673.0,262.5 673.8,258.3 674.6,264.6 675.4,262.2 676.2,265.7 677.0,262.8 677.8,263.0 678.6,262.6 679.4,262.9 680.2,261.3 681.0,260.4 681.8,257.6 682.6,259.9 683.4,258.0 684.2,255.0 685.0,256.9 685.8,254.4 686.6,259.9 687.4,258.6 688.2,256.0 689.0,258.8 689.8,257.2 690.6,258.3 691.4,257.7 692.2,254.8 693.0,257.3 693.8,255.0 694.6,257.5 695.4,256.5 696.2,257.7 697.0,260.5 697.8,261.4 698.6,259.8 699.4,260.5 700.2,259.7 701.0,260.5 701.8,263.1 702.6,265.9 703.4,264.4 704.2,267.4 705.0,267.6 705.8,269.7 706.6,269.4 707.4,268.1 708.2,269.8 709.0,270.2 709.8,268.5 710.6,268.2 711.4,270.3 712.2,271.1 713.0,268.3 713.8,267.0 714.6,268.0 715.4,267.6 716.2,269.4 717.0,270.5 717.8,270.8 718.6,270.0 719.4,270.6 720.2,271.6 721.0,273.0 721.8,269.4 722.6,270.9 723.4,268.7 724.2,267.6 725.0,267.5 725.8,269.8 726.6,269.9 727.4,269.4 728.2,271.7 729.0,272.1 729.8,269.4 730.6,271.6 731.4,268.0 732.2,269.2 733.0,266.7 733.8,268.0 734.6,267.5 735.4,265.9 736.2,266.2 737.0,266.4 737.8,273.4 738.6,270.0 739.4,267.9 740.2,268.7 741.0,264.3 741.8,268.0 742.6,266.1 743.4,267.5 744.2,260.4 745.0,265.8 745.8,266.7 746.6,269.1 747.4,267.3 748.2,271.6 749.0,271.0 749.8,272.9 750.6,273.6 751.4,274.0 752.2,275.3 753.0,271.8 753.8,275.7 754.6,274.4 755.4,276.0 756.2,276.9 757.0,275.3 757.8,278.0 758.6,274.3 759.4,277.7 760.2,274.2 761.0,272.5 761.8,279.1 762.6,275.5 763.4,280.3 764.2,279.0 765.0,281.0 765.8,279.4 766.6,278.2 767.4,275.5 768.2,278.1 769.0,279.5 769.8,280.5 770.6,277.2 771.4,276.4 772.2,275.2 773.0,278.3 773.8,276.3 774.6,281.4 775.4,280.4 776.2,275.8 777.0,279.3 777.8,278.7 778.6,275.0 779.4,276.1 780.2,278.7 781.0,276.0 781.8,276.7 782.6,276.2 783.4,275.1 784.2,277.4 785.0,275.7 785.8,272.3 786.6,271.4 787.4,267.6 788.2,271.9 789.0,274.1 789.8,271.4 790.6,272.6 791.4,270.4 792.2,277.6 793.0,277.2 793.8,278.1 794.6,276.7 795.4,276.1 796.2,278.0 797.0,276.9 797.8,280.2 798.6,281.8 799.4,283.1 800.2,284.5 801.0,283.7 801.8,278.2 802.6,282.8 803.4,283.6 804.2,280.8 805.0,280.4 805.8,280.8 806.6,281.9 807.4,284.7 808.2,279.8 809.0,284.8 809.8,282.8 810.6,284.5 811.4,279.1 812.2,280.4 813.0,283.7 813.8,286.9 814.6,286.3 815.4,286.4 816.2,284.8 817.0,285.8 817.8,285.3 818.6,286.5 819.4,286.2 820.2,285.6 821.0,284.0 821.8,284.0 822.6,283.6 823.4,284.0 824.2,286.0 825.0,286.7 825.8,285.0 826.6,285.0 827.4,280.0 828.2,284.1 829.0,282.2 829.8,281.1 830.6,278.7 831.4,276.8 832.2,280.8 833.0,276.4 833.8,275.1 834.6,276.0 835.4,277.5 836.2,276.9 837.0,277.7 837.8,281.2 838.6,281.2 839.4,276.1 840.2,280.0 841.0,281.6 841.8,281.1 842.6,280.9 843.4,279.2 844.2,281.0 845.0,283.8 845.8,285.5 846.6,279.4 847.4,285.8 848.2,285.5 849.0,280.3 849.8,285.4 850.6,283.4 851.4,285.8 852.2,285.2 853.0,286.5 853.8,287.2 854.6,288.1 855.4,285.6 856.2,284.7 857.0,286.4 857.8,285.1 858.6,286.2 859.4,286.2 860.2,282.2 861.0,285.0 861.8,282.4 862.6,282.4 863.4,285.6 864.2,284.3 865.0,286.1 865.8,286.3 866.6,287.8 867.4,291.5 868.2,288.5 869.0,288.1 869.8,289.9 870.6,288.6 871.4,290.8 872.2,292.0 873.0,292.7 873.8,286.9 874.6,289.7 875.4,287.1 876.2,288.8 877.0,287.1 877.8,286.6 878.6,283.0 879.4,279.8 880.2,279.6 881.0,277.7 881.8,281.6 882.6,281.9 883.4,279.7 884.2,280.3 885.0,280.8 885.8,281.9 886.6,274.2 887.4,282.4 888.2,278.6 889.0,282.0 889.8,281.3 890.6,279.0 891.4,280.0 892.2,280.5 893.0,278.3 893.8,279.7 894.6,282.9 895.4,285.0 896.2,284.0 897.0,286.6 897.8,289.0 898.6,287.6 899.4,286.6 900.2,289.8 901.0,288.4 901.8,286.9 902.6,285.4 903.4,286.8 904.2,288.5 905.0,288.9 905.8,290.8 906.6,290.1 907.4,289.8 908.2,289.3 909.0,286.4 909.8,289.0 910.6,288.3 911.4,287.2 912.2,289.7 913.0,289.3 913.8,285.4 914.6,285.5 915.4,289.4 916.2,285.9 917.0,286.6 917.8,287.0 918.6,287.2 919.4,286.6 920.2,290.2 921.0,289.3 921.8,291.7 922.6,290.3 923.4,291.7 924.2,288.3 925.0,288.6 925.8,290.0 926.6,286.7 927.4,284.7 928.2,283.0 929.0,285.3 929.8,284.6 930.6,284.2 931.4,281.3 932.2,286.9 933.0,281.0 933.8,281.8 934.6,283.5 935.4,285.8 936.2,284.4 937.0,284.7 937.8,282.7 938.6,283.3 939.4,283.4 940.2,285.0 941.0,281.6 941.8,282.8 942.6,280.8 943.4,287.1 944.2,283.0 945.0,288.2 945.8,289.8 946.6,289.3 947.4,290.7 948.2,291.0 949.0,291.3 949.8,292.4 950.6,291.6 951.4,290.4 952.2,288.6 953.0,292.1 953.8,291.5 954.6,292.6 955.4,293.1 956.2,293.6 957.0,288.2 957.8,292.3 958.6,290.6 959.4,288.5 960.2,292.6 961.0,291.3 961.8,290.5 962.6,288.3 963.4,291.0 964.2,291.6 965.0,292.3 965.8,290.2 966.6,290.6 967.4,294.2 968.2,291.3 969.0,296.1 969.8,291.0 970.6,293.0 971.4,294.1 972.2,291.8 973.0,290.4 973.8,290.1 974.6,292.1 975.4,289.5 976.2,287.2 977.0,288.2 977.8,285.0 978.6,286.1 979.4,285.2 980.2,283.7 981.0,282.7 981.8,284.1 982.6,287.5 983.4,286.1 984.2,288.8 985.0,284.7 985.8,288.9 986.6,289.6 987.4,287.9 988.2,287.4 989.0,287.2 989.8,285.4 990.6,287.6 991.4,286.0 992.2,291.2 993.0,289.1 993.8,294.3 994.6,291.0 995.4,292.7 996.2,295.6 997.0,292.0 997.8,293.7 998.6,296.3 999.4,293.4 1000.2,295.2 1001.0,293.3 1001.8,296.6 1002.6,296.2 1003.4,293.4 1004.2,290.7 1005.0,293.2 1005.8,289.8 1006.6,291.7 1007.4,293.8 1008.2,293.7 1009.0,289.0 1009.8,294.4 1010.6,294.0 1011.4,293.9 1012.2,291.8 1013.0,292.5 1013.8,293.0 1014.6,292.5 1015.4,290.9 1016.2,289.3 1017.0,289.7 1017.8,292.1 1018.6,290.4 1019.4,289.4 1020.2,292.3 1021.0,290.2 1021.8,290.0 1022.6,289.4 1023.4,285.8 1024.2,287.9 1025.0,289.7 1025.8,285.8 1026.6,285.2 1027.4,283.6 1028.2,286.5 1029.0,289.8 1029.8,285.9 1030.6,282.0 1031.4,287.0 1032.2,285.3 1033.0,282.7 1033.8,285.4 1034.6,287.2 1035.4,287.7 1036.2,286.9 1037.0,289.8 1037.8,290.0 1038.6,286.9 1039.4,287.3 1040.2,285.3 1041.0,287.4 1041.8,287.6 1042.6,291.1 1043.4,290.7 1044.2,293.6 1045.0,292.5 1045.8,293.8 1046.6,295.3 1047.4,293.5 1048.2,291.3 1049.0,291.8 1049.8,293.4 1050.6,295.5 1051.4,293.4 1052.2,293.9 1053.0,295.4 1053.8,292.1 1054.6,294.2 1055.4,294.0 1056.2,292.1 1057.0,293.3 1057.8,293.2 1058.6,290.5 1059.4,293.4 1060.2,291.9 1061.0,291.7 1061.8,287.9 1062.6,288.1 1063.4,293.4 1064.2,292.6 1065.0,290.7 1065.8,293.1 1066.6,291.0 1067.4,289.7 1068.2,292.5 1069.0,292.8 1069.8,293.1 1070.6,294.9 1071.4,290.5 1072.2,288.1 1073.0,290.0 1073.8,288.8 1074.6,287.7 1075.4,286.0 1076.2,284.4 1077.0,281.8 1077.8,288.6 1078.6,285.4 1079.4,288.4 1080.2,289.9 1081.0,287.3 1081.8,284.5 1082.6,286.2 1083.4,286.4 1084.2,286.2 1085.0,287.5 1085.8,277.8 1086.6,286.9 1087.4,286.9 1088.2,288.7 1089.0,293.1 1089.8,291.2 1090.6,292.5 1091.4,294.9 1092.2,294.3 1093.0,295.2 1093.8,291.8 1094.6,288.7 1095.4,292.1 1096.2,294.9 1097.0,297.3 1097.8,294.0 1098.6,295.2 1099.4,294.5 1100.2,292.2 1101.0,297.2 1101.8,296.3 1102.6,297.5 1103.4,296.1 1104.2,297.0 1105.0,292.8 1105.8,295.4 1106.6,294.4 1107.4,297.5 1108.2,295.4 1109.0,297.9 1109.8,296.2 1110.6,298.0 1111.4,295.1 1112.2,294.5 1113.0,294.5 1113.8,294.3 1114.6,296.5 1115.4,294.7 1116.2,294.3 1117.0,295.9 1117.8,293.8 1118.6,295.1 1119.4,294.1 1120.2,298.2 1121.0,298.2 1121.8,299.1 1122.6,297.8 1123.4,294.7 1124.2,291.7 1125.0,294.1 1125.8,288.8 1126.6,291.7 1127.4,291.9 1128.2,292.0 1129.0,285.3 1129.8,288.8 1130.6,292.8 1131.4,284.7 1132.2,291.4 1133.0,291.6 1133.8,291.2 1134.6,291.6 1135.4,289.8 1136.2,288.9 1137.0,287.2 1137.8,289.4 1138.6,294.3 1139.4,294.9 1140.2,296.1 1141.0,296.5 1141.8,296.6 1142.6,295.1 1143.4,297.2 1144.2,290.1 1145.0,294.5 1145.8,297.9 1146.6,298.7 1147.4,298.5 1148.2,300.6 1149.0,298.1 1149.8,299.4 1150.6,297.8 1151.4,297.5 1152.2,298.5 1153.0,295.1 1153.8,297.5 1154.6,301.1 1155.4,301.2 1156.2,300.9 1157.0,301.0 1157.8,296.5 1158.6,298.2 1159.4,297.6 1160.2,297.7 1161.0,298.2 1161.8,296.0 1162.6,299.4 1163.4,299.5 1164.2,300.3 1165.0,298.5 1165.8,299.6 1166.6,299.6 1167.4,299.5 1168.2,299.0 1169.0,296.4 1169.8,299.3 1170.6,298.4 1171.4,297.7 1172.2,297.6 1173.0,295.5 1173.8,296.1 1174.6,298.0 1175.4,292.8 1176.2,297.1 1177.0,291.1 1177.8,296.1 1178.6,294.7 1179.4,295.2 1180.2,293.5 1181.0,296.9 1181.8,292.8 1182.6,290.1 1183.4,296.1 1184.2,295.0 1185.0,294.1 1185.8,295.0 1186.6,296.3 1187.4,297.8 1188.2,298.4 1189.0,300.5 1189.8,294.5 1190.6,302.8 1191.4,303.2 1192.2,301.2 1193.0,302.5 1193.8,298.1 1194.6,300.7 1195.4,300.3 1196.2,301.0 1197.0,300.4 1197.8,303.0 1198.6,303.6 1199.4,303.5 1200.2,303.2 1201.0,303.6 1201.8,303.7 1202.6,304.7 1203.4,305.0 1204.2,304.7 1205.0,303.4 1205.8,302.5 1206.6,298.0 1207.4,301.8 1208.2,299.4 1209.0,304.0 1209.8,304.1 1210.6,306.7 1211.4,306.3 1212.2,306.1 1213.0,301.9 1213.8,303.9 1214.6,304.3 1215.4,302.8 1216.2,305.6 1217.0,305.5 1217.8,302.9 1218.6,303.9 1219.4,300.9 1220.2,297.8 1221.0,298.5 1221.8,299.4 1222.6,293.5 1223.4,301.1 1224.2,298.3 1225.0,295.8 1225.8,294.9 1226.6,292.8 1227.4,297.2 1228.2,295.3 1229.0,297.9 1229.8,300.3 1230.6,299.8 1231.4,300.5 1232.2,297.9 1233.0,297.5 1233.8,300.2 1234.6,299.6 1235.4,297.6 1236.2,304.4 1237.0,305.1 1237.8,307.6 1238.6,310.3 1239.4,309.9 1240.2,309.4 1241.0,311.4 1241.8,310.5 1242.6,306.6 1243.4,307.6 1244.2,305.5 1245.0,308.9 1245.8,307.9 1246.6,307.7 1247.4,306.6 1248.2,305.1 1249.0,306.4 1249.8,304.7 1250.6,303.2 1251.4,309.6 1252.2,310.1 1253.0,311.0 1253.8,310.2 1254.6,306.3 1255.4,310.6 1256.2,309.7 1257.0,306.7 1257.8,310.4 1258.6,307.1 1259.4,310.2 1260.2,310.7 1261.0,311.2 1261.8,311.8 1262.6,311.5 1263.4,312.6 1264.2,313.7 1265.0,313.5 1265.8,312.3 1266.6,313.6 1267.4,308.9 1268.2,310.1 1269.0,307.5 1269.8,308.4 1270.6,306.7 1271.4,306.8 1272.2,309.4 1273.0,304.0 1273.8,306.3 1274.6,306.4 1275.4,305.6 1276.2,307.3 1277.0,308.6 1277.8,309.5 1278.6,305.0 1279.4,313.5 1280.2,307.6 1281.0,311.7 1281.8,312.5 1282.6,312.6 1283.4,314.0 1284.2,315.6 1285.0,316.7 1285.8,316.7 1286.6,317.0 1287.4,318.6 1288.2,319.9 1289.0,317.2 1289.8,319.8 1290.6,317.3 1291.4,316.1 1292.2,320.8 1293.0,321.4 1293.8,317.3 1294.6,318.0 1295.4,320.4 1296.2,319.6 1297.0,318.8 1297.8,319.5 1298.6,318.9 1299.4,321.5 1300.2,322.1 1301.0,323.0 1301.8,320.7 1302.6,324.2 1303.4,325.1 1304.2,324.9 1305.0,322.6 1305.8,320.8 1306.6,320.3 1307.4,319.7 1308.2,320.1 1309.0,322.4 1309.8,322.2 1310.6,320.8 1311.4,320.2 1312.2,324.8 1313.0,324.3 1313.8,321.3 1314.6,326.2 1315.4,324.9 1316.2,323.0 1317.0,317.0 1317.8,319.4 1318.6,319.5 1319.4,313.1 1320.2,319.6 1321.0,318.6 1321.8,317.0 1322.6,315.8 1323.4,320.3 1324.2,317.0 1325.0,319.4 1325.8,321.2 1326.6,318.9 1327.4,317.0 1328.2,324.3 1329.0,319.0 1329.8,321.0 1330.6,317.6 1331.4,321.2 1332.2,322.6 1333.0,323.4 1333.8,324.7 1334.6,327.5 1335.4,328.1 1336.2,324.2 1337.0,326.9 1337.8,329.3 1338.6,329.6 1339.4,329.4 1340.2,332.0 1341.0,332.7 1341.8,333.2 1342.6,329.7 1343.4,334.6 1344.2,333.0 1345.0,331.0 1345.8,330.8 1346.6,331.5 1347.4,331.0 1348.2,332.0 1349.0,329.5 1349.8,331.9 1350.6,332.4 1351.4,333.3 1352.2,331.3 1353.0,331.1 1353.8,331.0 1354.6,330.5 1355.4,326.9 1356.2,331.8 1357.0,329.4 1357.8,332.5 1358.6,331.9 1359.4,333.3 1360.2,328.9 1361.0,331.0 1361.8,332.6 1362.6,333.5 1363.4,331.9 1364.2,332.4 1365.0,325.4 1365.8,330.7 1366.6,325.5 1367.4,326.8 1368.2,328.3 1369.0,330.2 1369.8,333.0 1370.6,326.0 1371.4,333.0 1372.2,329.5 1373.0,322.1 1373.8,329.7 1374.6,328.1 1375.4,331.1 1376.2,327.9 1377.0,327.6 1377.8,331.0 1378.6,326.2 1379.4,328.7 1380.2,331.3 1381.0,328.4 1381.8,327.6 1382.6,332.8 1383.4,331.9 1384.2,332.5 1385.0,335.2 1385.8,334.8 1386.6,337.4 1387.4,336.7 1388.2,336.7 1389.0,338.6 1389.8,338.7 1390.6,339.2 1391.4,338.9 1392.2,338.1 1393.0,340.4 1393.8,340.7 1394.6,338.6 1395.4,337.2 1396.2,339.0 1397.0,341.3 1397.8,339.8 1398.6,340.6 1399.4,341.2 1400.2,341.7 1401.0,343.6 1401.8,342.4 1402.6,339.9 1403.4,343.3 1404.2,343.8 1405.0,342.4 1405.8,345.1 1406.6,345.3 1407.4,343.5 1408.2,341.2 1409.0,340.0 1409.8,342.4 1410.6,342.3 1411.4,342.3 1412.2,341.6 1413.0,340.0 1413.8,341.4 1414.6,338.4 1415.4,337.5 1416.2,339.2 1417.0,337.1 1417.8,336.8 1418.6,337.2 1419.4,335.6 1420.2,331.0 1421.0,336.8 1421.8,335.4 1422.6,335.3 1423.4,336.4 1424.2,332.8 1425.0,333.3 1425.8,335.7 1426.6,333.0 1427.4,339.7 1428.2,336.8 1429.0,340.3 1429.8,342.3 1430.6,336.5 1431.4,341.7 1432.2,346.8 1433.0,346.5 1433.8,348.3 1434.6,351.2 1435.4,350.7 1436.2,346.1 1437.0,347.8 1437.8,344.1 1438.6,349.5 1439.4,351.9 1440.2,352.1 1441.0,352.8 1441.8,352.1 1442.6,350.2 1443.4,351.2 1444.2,349.2 1445.0,348.8 1445.8,351.7 1446.6,352.9 1447.4,350.9 1448.2,352.5 1449.0,349.6 1449.8,354.5 1450.6,354.2 1451.4,354.3 1452.2,352.2 1453.0,352.5 1453.8,353.4 1454.6,353.5 1455.4,351.3 1456.2,354.7 1457.0,352.9 1457.8,355.9 1458.6,354.7 1459.4,354.4 1460.2,355.0 1461.0,351.8 1461.8,350.8 1462.6,351.1 1463.4,350.9 1464.2,347.5 1465.0,350.3 1465.8,345.2 1466.6,348.1 1467.4,346.3 1468.2,346.0 1469.0,344.1 1469.8,346.4 1470.6,344.5 1471.4,349.3 1472.2,350.9 1473.0,349.3 1473.8,351.2 1474.6,348.2 1475.4,349.8 1476.2,350.1 1477.0,351.1 1477.8,355.0 1478.6,350.9 1479.4,353.2 1480.2,357.8 1481.0,357.7 1481.8,361.7 1482.6,360.9 1483.4,362.4 1484.2,361.3 1485.0,360.7 1485.8,362.3 1486.6,361.7 1487.4,360.4 1488.2,361.7 1489.0,363.1 1489.8,363.2 1490.6,365.2 1491.4,366.1 1492.2,361.9 1493.0,365.5 1493.8,363.5 1494.6,363.7 1495.4,362.8 1496.2,363.7 1497.0,362.6 1497.8,365.1 1498.6,364.9 1499.4,365.0 1500.2,363.3 1501.0,365.6 1501.8,362.8 1502.6,365.2 1503.4,365.0 1504.2,365.9 1505.0,368.7 1505.8,362.6 1506.6,367.5 1507.4,366.9 1508.2,369.0 1509.0,367.1 1509.8,366.6 1510.6,366.5 1511.4,366.9 1512.2,363.3 1513.0,361.4 1513.8,360.4 1514.6,361.5 1515.4,361.4 1516.2,357.3 1517.0,356.5 1517.8,360.9 1518.6,356.9 1519.4,358.0 1520.2,359.8 1521.0,361.3 1521.8,362.3 1522.6,363.1 1523.4,366.7 1524.2,364.5 1525.0,360.7 1525.8,363.8 1526.6,365.1 1527.4,366.8 1528.2,366.5 1529.0,371.7 1529.8,373.2 1530.6,369.6 1531.4,373.8 1532.2,373.4 1533.0,373.2 1533.8,374.1 1534.6,371.8 1535.4,372.3 1536.2,374.1 1537.0,374.9 1537.8,375.5 1538.6,375.7 1539.4,375.0 1540.2,378.2 1541.0,374.3 1541.8,378.3 1542.6,375.1 1543.4,378.0 1544.2,376.1 1545.0,376.6 1545.8,375.8 1546.6,375.4 1547.4,376.3 1548.2,376.6 1549.0,378.1 1549.8,375.4 1550.6,378.3 1551.4,378.9 1552.2,377.4 1553.0,379.7 1553.8,378.2 1554.6,380.3 1555.4,378.0 1556.2,376.3 1557.0,376.0 1557.8,378.7 1558.6,380.4 1559.4,379.1 1560.2,380.6 1561.0,377.6 1561.8,376.7 1562.6,373.5 1563.4,374.7 1564.2,374.3 1565.0,374.0 1565.8,372.2 1566.6,371.8 1567.4,381.3 1568.2,379.2 1569.0,381.1 1569.8,381.2 1570.6,379.4 1571.4,380.0 1572.2,377.9 1573.0,378.9 1573.8,381.9 1574.6,380.1 1575.4,375.1 1576.2,378.3 1577.0,386.2 1577.8,384.9 1578.6,386.1 1579.4,387.8 1580.2,387.9 1581.0,390.3 1581.8,390.2 1582.6,391.1 1583.4,393.1 1584.2,390.3 1585.0,389.2 1585.8,392.2 1586.6,390.7 1587.4,393.3 1588.2,392.6 1589.0,393.4 1589.8,393.1 1590.6,394.5 1591.4,394.4 1592.2,396.0 1593.0,396.2 1593.8,396.3 1594.6,393.8 1595.4,394.6 1596.2,397.1 1597.0,397.8 1597.8,395.7 1598.6,395.7 1599.4,397.8 1600.2,398.8 1601.0,398.5 1601.8,399.9 1602.6,398.3 1603.4,394.0 1604.2,397.9 1605.0,398.6 1605.8,393.1 1606.6,394.8 1607.4,392.2 1608.2,395.3 1609.0,394.1 1609.8,394.0 1610.6,389.3 1611.4,391.4 1612.2,390.0 1613.0,392.8 1613.8,395.7 1614.6,392.8 1615.4,395.9 1616.2,395.0 1617.0,394.0 1617.8,389.9 1618.6,387.3 1619.4,392.3 1620.2,393.4 1621.0,394.4 1621.8,388.2 1622.6,387.4 1623.4,389.4 1624.2,389.0 1625.0,391.0 1625.8,393.2 1626.6,395.2 1627.4,398.7 1628.2,399.7 1629.0,400.5 1629.8,400.3 1630.6,399.2 1631.4,400.1 1632.2,402.1 1633.0,402.3 1633.8,403.6 1634.6,401.0 1635.4,403.7 1636.2,403.7 1637.0,401.5 1637.8,401.5 1638.6,401.2 1639.4,401.4 1640.2,403.5 1641.0,405.9 1641.8,403.7 1642.6,403.8 1643.4,405.0 1644.2,400.7 1645.0,403.9 1645.8,400.6 1646.6,401.6 1647.4,401.1 1648.2,404.0 1649.0,401.0 1649.8,402.1 1650.6,403.9 1651.4,403.8 1652.2,404.5 1653.0,403.0 1653.8,399.1 1654.6,403.3 1655.4,402.1 1656.2,402.9 1657.0,403.6 1657.8,403.7 1658.6,403.8 1659.4,404.7 1660.2,402.6 1661.0,401.6 1661.8,401.0 1662.6,403.6 1663.4,403.2 1664.2,403.0 1665.0,404.1 1665.8,402.7 1666.6,398.4 1667.4,402.2 1668.2,404.2 1669.0,402.7 1669.8,400.2 1670.6,399.9 1671.4,399.0 1672.2,403.3 1673.0,403.5 1673.8,404.0 1674.6,411.1 1675.4,412.6 1676.2,413.0 1677.0,415.6 1677.8,416.2 1678.6,417.2 1679.4,416.3 1680.2,415.5 1681.0,419.7 1681.8,423.2 1682.6,423.5 1683.4,427.0 1684.2,428.9 1685.0,430.3 1685.8,428.1 1686.6,431.2 1687.4,430.2 1688.2,427.5 1689.0,427.9 1689.8,429.3 1690.6,428.0 1691.4,433.4 1692.2,434.6 1693.0,434.0 1693.8,432.3 1694.6,430.5 1695.4,432.1 1696.2,434.4 1697.0,439.1 1697.8,438.9 1698.6,440.4 1699.4,441.6 1700.2,443.4 1701.0,443.0 1701.8,444.0 1702.6,443.1 1703.4,446.9 1704.2,449.2 1705.0,447.3 1705.8,445.5 1706.6,445.0 1707.4,451.2 1708.2,449.9 1709.0,447.5 1709.8,451.2 1710.6,450.7 1711.4,448.8 1712.2,448.7 1713.0,450.6 1713.8,453.4 1714.6,461.0 1715.4,466.9 1716.2,467.9 1717.0,467.5 1717.8,470.4 1718.6,473.2 1719.4,476.0 1720.2,479.3 1721.0,482.4 1721.8,481.9 1722.6,486.6 1723.4,489.8 1724.2,494.4 1725.0,496.5 1725.8,499.6 1726.6,500.4 1727.4,501.1 1728.2,504.4 1729.0,509.0 1729.8,506.6 1730.6,510.6 1731.4,513.9 1732.2,513.9 1733.0,516.3 1733.8,517.0 1734.6,521.7 1735.4,521.7 1736.2,519.0 1737.0,523.6 1737.8,525.4 1738.6,529.5 1739.4,531.4 1740.2,530.5 1741.0,535.6 1741.8,534.1 1742.6,534.4 1743.4,541.0 1744.2,541.9 1745.0,542.6 1745.8,542.4 1746.6,546.0 1747.4,548.5 1748.2,547.9 1749.0,550.8 1749.8,552.8 1750.6,554.0 1751.4,556.6 1752.2,557.6 1753.0,560.5 1753.8,559.6 1754.6,562.8 1755.4,565.1 1756.2,566.2 1757.0,567.3 1757.8,565.7 1758.6,570.1 1759.4,567.7 1760.2,568.4 1761.0,571.9 1761.8,578.4 1762.6,583.8 1763.4,593.5 1764.2,604.6 1765.0,612.9 1765.8,618.5 1766.6,619.0 1767.4,618.5 1768.2,620.7 1769.0,619.4 1769.8,620.9 1770.6,624.7 1771.4,636.9 1772.2,650.1 1773.0,653.5 1773.8,656.7 1774.6,659.3 1775.4,662.6 1776.2,664.7 1777.0,667.5 1777.8,670.2 1778.6,672.7 1779.4,674.6 1780.2,678.3 1781.0,679.9 1781.8,682.2 1782.6,685.9 1783.4,687.7 1784.2,690.4 1785.0,692.7 1785.8,696.6 1786.6,700.4 1787.4,704.7 1788.2,708.5 1789.0,712.6 1789.8,716.6 1790.6,720.4 1791.4,725.2 1792.2,729.3 1793.0,732.7 1793.8,736.8 1794.6,739.1 1795.4,743.6 1796.2,748.1 1797.0,751.6 1797.8,755.0 1798.6,759.1 1799.4,761.9 1800.2,766.5 1801.0,770.1 1801.8,771.9 1802.6,774.4 1803.4,776.7 1804.2,779.6 1805.0,781.2 1805.8,783.6 1806.6,785.7 1807.4,787.5 1808.2,790.6 1809.0,792.2 1809.8,794.9 1810.6,796.9 1811.4,798.9 1812.2,803.1 1813.0,811.2 1813.8,818.3 1814.6,844.2 1815.4,922.6 1816.2,924.1 1817.0,923.5 1817.8,924.4 1818.6,924.4 1819.4,924.8 1820.2,946.3 1821.0,969.5 1821.8,981.8 1822.6,996.5 1823.4,1036.9 1824.2,1156.9 1824.2,1160.1 1823.4,1159.1 1822.6,1159.2 1821.8,1160.2 1821.0,1158.8 1820.2,1159.8 1819.4,1157.2 1818.6,1146.8 1817.8,1135.1 1817.0,1126.4 1816.2,1118.2 1815.4,1111.7 1814.6,1110.4 1813.8,1111.1 1813.0,1111.5 1812.2,1109.8 1811.4,1098.6 1810.6,1078.9 1809.8,1060.7 1809.0,1040.1 1808.2,1011.0 1807.4,942.5 1806.6,886.2 1805.8,883.9 1805.0,882.0 1804.2,880.5 1803.4,878.3 1802.6,876.6 1801.8,875.4 1801.0,874.4 1800.2,871.5 1799.4,868.1 1798.6,865.3 1797.8,861.1 1797.0,860.6 1796.2,858.7 1795.4,848.9 1794.6,840.6 1793.8,837.1 1793.0,835.5 1792.2,836.1 1791.4,835.9 1790.6,835.3 1789.8,834.0 1789.0,832.3 1788.2,820.6 1787.4,812.4 1786.6,801.6 1785.8,790.7 1785.0,788.4 1784.2,792.6 1783.4,796.6 1782.6,798.4 1781.8,798.5 1781.0,793.4 1780.2,787.2 1779.4,781.4 1778.6,775.8 1777.8,771.7 1777.0,765.7 1776.2,760.6 1775.4,754.6 1774.6,758.5 1773.8,768.7 1773.0,780.4 1772.2,788.5 1771.4,798.1 1770.6,794.6 1769.8,791.2 1769.0,789.3 1768.2,786.7 1767.4,783.1 1766.6,781.0 1765.8,779.0 1765.0,777.7 1764.2,775.8 1763.4,775.3 1762.6,772.1 1761.8,770.3 1761.0,770.2 1760.2,695.3 1759.4,661.9 1758.6,657.4 1757.8,657.3 1757.0,657.0 1756.2,657.8 1755.4,657.2 1754.6,657.8 1753.8,659.0 1753.0,657.4 1752.2,656.0 1751.4,651.5 1750.6,649.0 1749.8,648.6 1749.0,647.0 1748.2,649.0 1747.4,647.8 1746.6,650.7 1745.8,643.4 1745.0,632.5 1744.2,624.8 1743.4,634.6 1742.6,637.0 1741.8,636.8 1741.0,636.7 1740.2,637.3 1739.4,636.5 1738.6,636.2 1737.8,630.4 1737.0,617.5 1736.2,617.8 1735.4,617.4 1734.6,618.0 1733.8,616.7 1733.0,616.1 1732.2,616.5 1731.4,611.2 1730.6,605.0 1729.8,598.8 1729.0,594.1 1728.2,588.7 1727.4,585.7 1726.6,581.0 1725.8,600.6 1725.0,629.2 1724.2,630.5 1723.4,630.0 1722.6,629.7 1721.8,632.0 1721.0,630.5 1720.2,625.9 1719.4,621.5 1718.6,619.8 1717.8,619.1 1717.0,621.3 1716.2,620.5 1715.4,618.3 1714.6,618.7 1713.8,617.5 1713.0,616.5 1712.2,617.7 1711.4,591.8 1710.6,566.3 1709.8,544.4 1709.0,531.2 1708.2,532.5 1707.4,529.8 1706.6,537.0 1705.8,530.3 1705.0,529.5 1704.2,528.6 1703.4,528.2 1702.6,526.3 1701.8,524.9 1701.0,524.3 1700.2,527.1 1699.4,522.3 1698.6,519.9 1697.8,520.4 1697.0,518.9 1696.2,518.4 1695.4,520.8 1694.6,516.6 1693.8,515.4 1693.0,513.4 1692.2,513.1 1691.4,511.4 1690.6,510.8 1689.8,516.9 1689.0,516.0 1688.2,509.8 1687.4,512.4 1686.6,508.3 1685.8,506.4 1685.0,503.7 1684.2,502.8 1683.4,503.6 1682.6,500.9 1681.8,500.9 1681.0,499.7 1680.2,499.0 1679.4,542.4 1678.6,541.6 1677.8,543.7 1677.0,542.2 1676.2,540.2 1675.4,542.0 1674.6,540.6 1673.8,541.5 1673.0,540.0 1672.2,542.0 1671.4,535.0 1670.6,534.3 1669.8,534.6 1669.0,533.4 1668.2,542.9 1667.4,543.0 1666.6,542.1 1665.8,541.8 1665.0,540.7 1664.2,541.8 1663.4,542.9 1662.6,540.9 1661.8,541.4 1661.0,542.0 1660.2,487.9 1659.4,486.8 1658.6,483.5 1657.8,484.7 1657.0,483.9 1656.2,483.5 1655.4,481.6 1654.6,482.3 1653.8,481.6 1653.0,481.5 1652.2,480.8 1651.4,479.8 1650.6,483.1 1649.8,480.1 1649.0,481.5 1648.2,477.0 1647.4,477.1 1646.6,484.2 1645.8,477.9 1645.0,473.7 1644.2,475.3 1643.4,477.8 1642.6,475.6 1641.8,475.2 1641.0,475.2 1640.2,472.8 1639.4,473.2 1638.6,474.3 1637.8,473.6 1637.0,475.6 1636.2,474.3 1635.4,470.4 1634.6,474.6 1633.8,473.0 1633.0,470.2 1632.2,468.9 1631.4,468.5 1630.6,523.4 1629.8,522.9 1629.0,525.7 1628.2,522.3 1627.4,522.4 1626.6,521.7 1625.8,522.4 1625.0,520.8 1624.2,520.2 1623.4,520.2 1622.6,513.9 1621.8,515.7 1621.0,514.3 1620.2,512.4 1619.4,523.6 1618.6,524.9 1617.8,523.2 1617.0,524.5 1616.2,523.7 1615.4,524.3 1614.6,521.2 1613.8,519.9 1613.0,523.6 1612.2,522.1 1611.4,469.7 1610.6,470.0 1609.8,469.0 1609.0,470.9 1608.2,471.5 1607.4,469.3 1606.6,469.8 1605.8,469.5 1605.0,467.8 1604.2,468.5 1603.4,465.6 1602.6,465.6 1601.8,464.6 1601.0,464.6 1600.2,463.3 1599.4,463.6 1598.6,462.2 1597.8,461.5 1597.0,461.9 1596.2,458.5 1595.4,459.9 1594.6,459.2 1593.8,455.3 1593.0,455.5 1592.2,457.3 1591.4,455.5 1590.6,457.0 1589.8,456.1 1589.0,453.6 1588.2,452.2 1587.4,452.2 1586.6,449.4 1585.8,453.6 1585.0,453.3 1584.2,452.3 1583.4,452.7 1582.6,451.7 1581.8,448.9 1581.0,501.5 1580.2,498.1 1579.4,502.1 1578.6,497.3 1577.8,496.3 1577.0,497.1 1576.2,497.9 1575.4,497.7 1574.6,498.2 1573.8,489.1 1573.0,488.8 1572.2,490.5 1571.4,488.5 1570.6,503.8 1569.8,500.7 1569.0,500.1 1568.2,499.5 1567.4,499.5 1566.6,499.0 1565.8,501.5 1565.0,500.6 1564.2,498.4 1563.4,498.0 1562.6,447.4 1561.8,447.7 1561.0,444.6 1560.2,445.8 1559.4,443.7 1558.6,442.7 1557.8,447.1 1557.0,445.6 1556.2,446.3 1555.4,441.9 1554.6,442.0 1553.8,441.2 1553.0,444.9 1552.2,442.7 1551.4,444.7 1550.6,441.1 1549.8,444.9 1549.0,441.7 1548.2,441.6 1547.4,443.5 1546.6,442.2 1545.8,438.8 1545.0,437.5 1544.2,438.1 1543.4,438.3 1542.6,436.5 1541.8,435.2 1541.0,433.2 1540.2,434.2 1539.4,433.8 1538.6,433.9 1537.8,438.4 1537.0,431.8 1536.2,434.7 1535.4,432.0 1534.6,430.3 1533.8,428.6 1533.0,427.9 1532.2,475.4 1531.4,476.3 1530.6,479.7 1529.8,478.2 1529.0,477.1 1528.2,476.6 1527.4,475.0 1526.6,474.7 1525.8,474.3 1525.0,470.3 1524.2,466.9 1523.4,469.6 1522.6,467.8 1521.8,478.0 1521.0,476.1 1520.2,478.0 1519.4,474.1 1518.6,474.1 1517.8,473.7 1517.0,477.2 1516.2,474.9 1515.4,476.1 1514.6,432.3 1513.8,429.7 1513.0,430.8 1512.2,427.9 1511.4,428.5 1510.6,424.2 1509.8,424.9 1509.0,427.6 1508.2,432.3 1507.4,430.4 1506.6,428.5 1505.8,426.7 1505.0,428.8 1504.2,427.8 1503.4,427.5 1502.6,424.4 1501.8,426.3 1501.0,424.0 1500.2,423.0 1499.4,423.4 1498.6,424.3 1497.8,422.4 1497.0,425.0 1496.2,426.1 1495.4,422.8 1494.6,420.9 1493.8,417.8 1493.0,419.9 1492.2,418.1 1491.4,418.6 1490.6,419.2 1489.8,420.7 1489.0,418.3 1488.2,416.8 1487.4,415.8 1486.6,414.9 1485.8,420.3 1485.0,413.9 1484.2,415.7 1483.4,460.7 1482.6,459.4 1481.8,457.5 1481.0,459.7 1480.2,456.6 1479.4,456.2 1478.6,456.5 1477.8,457.0 1477.0,457.3 1476.2,458.1 1475.4,451.0 1474.6,450.1 1473.8,449.3 1473.0,461.4 1472.2,458.1 1471.4,457.7 1470.6,459.8 1469.8,461.1 1469.0,458.7 1468.2,459.2 1467.4,458.2 1466.6,458.0 1465.8,416.0 1465.0,414.7 1464.2,412.9 1463.4,412.1 1462.6,415.6 1461.8,413.8 1461.0,413.9 1460.2,424.7 1459.4,414.1 1458.6,411.2 1457.8,414.1 1457.0,411.9 1456.2,415.9 1455.4,410.5 1454.6,412.2 1453.8,407.8 1453.0,406.8 1452.2,407.8 1451.4,408.3 1450.6,408.2 1449.8,409.3 1449.0,407.6 1448.2,409.9 1447.4,411.5 1446.6,407.2 1445.8,408.4 1445.0,409.0 1444.2,406.9 1443.4,406.2 1442.6,405.4 1441.8,404.0 1441.0,402.2 1440.2,404.8 1439.4,401.6 1438.6,403.5 1437.8,402.7 1437.0,401.1 1436.2,400.1 1435.4,399.0 1434.6,441.1 1433.8,441.0 1433.0,441.7 1432.2,442.3 1431.4,443.2 1430.6,440.4 1429.8,442.6 1429.0,440.1 1428.2,441.0 1427.4,439.0 1426.6,431.9 1425.8,432.9 1425.0,433.2 1424.2,433.5 1423.4,441.6 1422.6,442.8 1421.8,441.3 1421.0,446.2 1420.2,442.1 1419.4,442.1 1418.6,441.0 1417.8,443.2 1417.0,409.2 1416.2,402.7 1415.4,402.3 1414.6,402.0 1413.8,402.9 1413.0,401.4 1412.2,403.8 1411.4,400.8 1410.6,401.5 1409.8,404.5 1409.0,398.5 1408.2,398.5 1407.4,397.7 1406.6,399.3 1405.8,396.1 1405.0,395.8 1404.2,399.9 1403.4,397.9 1402.6,395.8 1401.8,396.0 1401.0,395.8 1400.2,395.2 1399.4,398.6 1398.6,394.7 1397.8,396.3 1397.0,397.5 1396.2,394.1 1395.4,395.6 1394.6,397.2 1393.8,394.7 1393.0,391.7 1392.2,392.6 1391.4,392.1 1390.6,392.9 1389.8,390.9 1389.0,391.9 1388.2,391.0 1387.4,388.1 1386.6,387.0 1385.8,425.6 1385.0,425.1 1384.2,426.0 1383.4,427.3 1382.6,424.9 1381.8,428.3 1381.0,425.3 1380.2,426.1 1379.4,425.3 1378.6,425.4 1377.8,420.9 1377.0,420.6 1376.2,422.8 1375.4,421.0 1374.6,431.0 1373.8,430.5 1373.0,429.7 1372.2,429.6 1371.4,431.0 1370.6,427.3 1369.8,428.6 1369.0,429.7 1368.2,392.5 1367.4,391.5 1366.6,395.1 1365.8,394.2 1365.0,392.9 1364.2,394.5 1363.4,392.7 1362.6,392.7 1361.8,394.9 1361.0,387.7 1360.2,390.9 1359.4,387.2 1358.6,389.7 1357.8,389.7 1357.0,388.4 1356.2,387.4 1355.4,385.7 1354.6,385.1 1353.8,383.9 1353.0,384.7 1352.2,386.2 1351.4,385.8 1350.6,388.1 1349.8,385.8 1349.0,385.2 1348.2,382.4 1347.4,384.5 1346.6,382.1 1345.8,381.1 1345.0,380.3 1344.2,383.3 1343.4,380.0 1342.6,378.2 1341.8,379.6 1341.0,375.9 1340.2,380.5 1339.4,381.0 1338.6,380.9 1337.8,384.7 1337.0,377.2 1336.2,414.5 1335.4,414.9 1334.6,413.6 1333.8,413.9 1333.0,413.6 1332.2,413.9 1331.4,411.9 1330.6,413.5 1329.8,411.3 1329.0,406.2 1328.2,404.9 1327.4,407.0 1326.6,406.1 1325.8,417.2 1325.0,417.8 1324.2,416.6 1323.4,419.5 1322.6,417.1 1321.8,419.1 1321.0,415.7 1320.2,413.9 1319.4,376.3 1318.6,379.2 1317.8,377.6 1317.0,378.7 1316.2,380.0 1315.4,378.6 1314.6,382.3 1313.8,377.7 1313.0,377.7 1312.2,377.7 1311.4,376.6 1310.6,376.4 1309.8,376.9 1309.0,375.2 1308.2,384.7 1307.4,374.2 1306.6,373.4 1305.8,376.1 1305.0,370.6 1304.2,374.4 1303.4,372.1 1302.6,373.8 1301.8,370.3 1301.0,372.7 1300.2,374.9 1299.4,371.8 1298.6,369.2 1297.8,369.1 1297.0,370.9 1296.2,370.8 1295.4,368.0 1294.6,366.6 1293.8,377.9 1293.0,366.5 1292.2,365.3 1291.4,365.2 1290.6,363.5 1289.8,360.3 1289.0,362.1 1288.2,361.3 1287.4,400.2 1286.6,404.4 1285.8,402.8 1285.0,401.6 1284.2,400.7 1283.4,402.6 1282.6,401.1 1281.8,400.7 1281.0,402.7 1280.2,396.9 1279.4,394.7 1278.6,394.6 1277.8,394.1 1277.0,405.4 1276.2,404.0 1275.4,403.3 1274.6,402.5 1273.8,404.0 1273.0,402.6 1272.2,403.8 1271.4,403.4 1270.6,371.1 1269.8,368.0 1269.0,368.9 1268.2,366.5 1267.4,366.9 1266.6,369.2 1265.8,365.5 1265.0,364.9 1264.2,367.0 1263.4,370.3 1262.6,366.5 1261.8,363.4 1261.0,363.2 1260.2,364.4 1259.4,362.2 1258.6,363.0 1257.8,362.6 1257.0,361.5 1256.2,362.2 1255.4,360.7 1254.6,361.7 1253.8,360.9 1253.0,370.6 1252.2,360.9 1251.4,360.4 1250.6,362.6 1249.8,360.7 1249.0,360.5 1248.2,360.5 1247.4,360.2 1246.6,359.8 1245.8,361.9 1245.0,357.1 1244.2,357.3 1243.4,355.9 1242.6,355.7 1241.8,357.3 1241.0,359.8 1240.2,353.3 1239.4,353.7 1238.6,393.1 1237.8,393.5 1237.0,391.3 1236.2,389.3 1235.4,389.7 1234.6,389.4 1233.8,390.4 1233.0,389.5 1232.2,388.9 1231.4,383.7 1230.6,385.1 1229.8,383.5 1229.0,386.3 1228.2,393.1 1227.4,393.2 1226.6,394.6 1225.8,391.8 1225.0,394.3 1224.2,390.8 1223.4,392.7 1222.6,392.2 1221.8,356.1 1221.0,355.9 1220.2,357.3 1219.4,357.0 1218.6,357.1 1217.8,362.5 1217.0,359.3 1216.2,357.4 1215.4,359.8 1214.6,359.7 1213.8,360.1 1213.0,355.1 1212.2,355.6 1211.4,354.8 1210.6,353.3 1209.8,352.9 1209.0,352.8 1208.2,354.9 1207.4,354.4 1206.6,353.2 1205.8,357.2 1205.0,354.4 1204.2,357.1 1203.4,354.3 1202.6,355.8 1201.8,357.0 1201.0,352.2 1200.2,350.0 1199.4,350.7 1198.6,350.3 1197.8,349.1 1197.0,351.2 1196.2,347.8 1195.4,345.5 1194.6,345.9 1193.8,354.3 1193.0,351.2 1192.2,351.6 1191.4,350.1 1190.6,348.6 1189.8,382.9 1189.0,383.6 1188.2,381.9 1187.4,383.4 1186.6,381.6 1185.8,382.8 1185.0,381.2 1184.2,381.7 1183.4,381.5 1182.6,376.1 1181.8,376.7 1181.0,376.2 1180.2,376.8 1179.4,384.9 1178.6,385.1 1177.8,385.1 1177.0,384.4 1176.2,385.2 1175.4,386.4 1174.6,389.1 1173.8,385.8 1173.0,354.3 1172.2,354.6 1171.4,353.0 1170.6,353.8 1169.8,361.1 1169.0,352.7 1168.2,354.0 1167.4,352.9 1166.6,354.6 1165.8,358.4 1165.0,352.2 1164.2,352.8 1163.4,351.4 1162.6,349.1 1161.8,352.2 1161.0,351.8 1160.2,354.2 1159.4,352.0 1158.6,353.5 1157.8,352.4 1157.0,358.1 1156.2,352.6 1155.4,353.9 1154.6,351.2 1153.8,353.6 1153.0,351.3 1152.2,349.5 1151.4,346.0 1150.6,349.2 1149.8,347.9 1149.0,347.2 1148.2,348.6 1147.4,346.3 1146.6,349.1 1145.8,346.6 1145.0,345.3 1144.2,347.0 1143.4,342.5 1142.6,343.2 1141.8,343.0 1141.0,341.5 1140.2,377.7 1139.4,377.3 1138.6,379.1 1137.8,378.0 1137.0,377.1 1136.2,375.3 1135.4,377.7 1134.6,377.5 1133.8,371.2 1133.0,371.2 1132.2,371.6 1131.4,369.8 1130.6,382.8 1129.8,381.6 1129.0,384.5 1128.2,384.9 1127.4,384.0 1126.6,386.5 1125.8,384.7 1125.0,384.9 1124.2,353.5 1123.4,352.1 1122.6,349.4 1121.8,348.8 1121.0,349.9 1120.2,349.5 1119.4,350.1 1118.6,350.7 1117.8,349.6 1117.0,350.1 1116.2,348.1 1115.4,350.2 1114.6,345.7 1113.8,349.2 1113.0,349.3 1112.2,347.4 1111.4,348.4 1110.6,349.0 1109.8,349.2 1109.0,354.9 1108.2,345.7 1107.4,345.5 1106.6,343.1 1105.8,347.0 1105.0,345.2 1104.2,345.3 1103.4,346.3 1102.6,347.3 1101.8,347.5 1101.0,346.2 1100.2,346.2 1099.4,343.8 1098.6,344.1 1097.8,345.8 1097.0,342.8 1096.2,342.9 1095.4,344.0 1094.6,347.7 1093.8,343.3 1093.0,343.1 1092.2,343.9 1091.4,373.5 1090.6,374.2 1089.8,373.6 1089.0,375.3 1088.2,376.3 1087.4,376.1 1086.6,373.5 1085.8,376.1 1085.0,368.7 1084.2,367.7 1083.4,367.1 1082.6,367.7 1081.8,378.5 1081.0,380.0 1080.2,380.9 1079.4,379.9 1078.6,378.4 1077.8,378.1 1077.0,379.8 1076.2,377.8 1075.4,349.8 1074.6,348.7 1073.8,347.8 1073.0,348.7 1072.2,347.2 1071.4,347.1 1070.6,349.8 1069.8,348.4 1069.0,348.7 1068.2,352.9 1067.4,349.5 1066.6,352.8 1065.8,351.2 1065.0,348.3 1064.2,349.5 1063.4,348.0 1062.6,347.7 1061.8,345.8 1061.0,344.6 1060.2,343.5 1059.4,345.6 1058.6,342.4 1057.8,342.5 1057.0,343.6 1056.2,342.3 1055.4,344.1 1054.6,344.3 1053.8,344.9 1053.0,344.8 1052.2,343.1 1051.4,342.2 1050.6,341.5 1049.8,340.8 1049.0,342.4 1048.2,343.4 1047.4,343.7 1046.6,343.8 1045.8,343.7 1045.0,341.1 1044.2,343.8 1043.4,343.5 1042.6,372.7 1041.8,374.4 1041.0,373.5 1040.2,371.7 1039.4,374.0 1038.6,372.2 1037.8,372.6 1037.0,373.4 1036.2,372.8 1035.4,365.0 1034.6,364.1 1033.8,363.3 1033.0,373.8 1032.2,375.4 1031.4,376.0 1030.6,375.3 1029.8,378.3 1029.0,378.1 1028.2,376.1 1027.4,376.4 1026.6,345.6 1025.8,346.2 1025.0,343.6 1024.2,346.1 1023.4,348.3 1022.6,346.0 1021.8,347.1 1021.0,349.6 1020.2,350.4 1019.4,347.5 1018.6,346.7 1017.8,347.5 1017.0,348.0 1016.2,346.1 1015.4,345.2 1014.6,345.6 1013.8,342.7 1013.0,346.3 1012.2,348.4 1011.4,344.4 1010.6,346.6 1009.8,346.0 1009.0,353.6 1008.2,346.3 1007.4,344.0 1006.6,346.9 1005.8,345.8 1005.0,343.9 1004.2,342.9 1003.4,340.8 1002.6,340.8 1001.8,338.9 1001.0,337.8 1000.2,338.0 999.4,341.3 998.6,337.8 997.8,338.7 997.0,336.5 996.2,338.0 995.4,339.8 994.6,338.2 993.8,368.3 993.0,369.2 992.2,371.2 991.4,369.3 990.6,368.7 989.8,369.8 989.0,371.0 988.2,368.1 987.4,367.7 986.6,364.2 985.8,366.0 985.0,361.4 984.2,372.8 983.4,373.6 982.6,372.8 981.8,375.2 981.0,373.0 980.2,375.9 979.4,372.2 978.6,375.2 977.8,343.2 977.0,345.2 976.2,345.1 975.4,344.5 974.6,345.4 973.8,346.7 973.0,348.4 972.2,352.4 971.4,345.2 970.6,343.3 969.8,344.9 969.0,346.2 968.2,342.8 967.4,343.2 966.6,345.1 965.8,342.4 965.0,341.0 964.2,343.2 963.4,344.9 962.6,342.7 961.8,343.6 961.0,342.0 960.2,341.4 959.4,340.1 958.6,338.5 957.8,336.3 957.0,336.1 956.2,339.6 955.4,335.8 954.6,339.6 953.8,337.1 953.0,338.2 952.2,336.5 951.4,336.1 950.6,333.3 949.8,335.2 949.0,335.3 948.2,335.4 947.4,339.0 946.6,336.1 945.8,333.9 945.0,369.1 944.2,366.3 943.4,367.7 942.6,366.7 941.8,366.6 941.0,365.9 940.2,364.5 939.4,366.2 938.6,364.7 937.8,361.8 937.0,360.2 936.2,358.5 935.4,371.3 934.6,370.7 933.8,368.0 933.0,368.7 932.2,368.7 931.4,368.4 930.6,372.6 929.8,369.0 929.0,340.0 928.2,340.8 927.4,344.1 926.6,340.8 925.8,341.5 925.0,344.9 924.2,344.0 923.4,343.9 922.6,342.9 921.8,344.1 921.0,343.5 920.2,340.9 919.4,341.6 918.6,340.9 917.8,339.8 917.0,341.1 916.2,339.1 915.4,339.5 914.6,340.1 913.8,339.2 913.0,339.2 912.2,341.9 911.4,340.7 910.6,340.0 909.8,339.3 909.0,341.2 908.2,345.4 907.4,336.6 906.6,336.1 905.8,334.6 905.0,337.8 904.2,334.4 903.4,334.5 902.6,336.4 901.8,337.6 901.0,334.0 900.2,333.5 899.4,337.0 898.6,333.6 897.8,331.9 897.0,333.2 896.2,362.5 895.4,361.2 894.6,362.1 893.8,362.5 893.0,362.8 892.2,362.1 891.4,366.3 890.6,364.3 889.8,362.9 889.0,358.5 888.2,357.0 887.4,355.3 886.6,366.0 885.8,366.7 885.0,365.3 884.2,366.5 883.4,365.0 882.6,366.6 881.8,364.9 881.0,365.7 880.2,340.1 879.4,338.6 878.6,342.3 877.8,338.1 877.0,336.7 876.2,339.5 875.4,342.1 874.6,338.4 873.8,339.4 873.0,337.5 872.2,335.7 871.4,336.9 870.6,337.0 869.8,338.3 869.0,338.2 868.2,339.6 867.4,337.3 866.6,336.0 865.8,336.9 865.0,335.8 864.2,335.7 863.4,334.4 862.6,336.5 861.8,334.4 861.0,338.2 860.2,334.1 859.4,336.1 858.6,336.0 857.8,334.9 857.0,334.7 856.2,335.2 855.4,334.5 854.6,333.0 853.8,331.4 853.0,334.2 852.2,331.4 851.4,329.8 850.6,329.4 849.8,331.6 849.0,327.6 848.2,330.8 847.4,358.3 846.6,358.3 845.8,359.2 845.0,357.5 844.2,357.7 843.4,357.7 842.6,358.8 841.8,359.4 841.0,361.1 840.2,351.4 839.4,352.6 838.6,353.0 837.8,363.8 837.0,363.9 836.2,363.6 835.4,363.4 834.6,363.6 833.8,362.4 833.0,364.1 832.2,362.6 831.4,338.6 830.6,337.4 829.8,335.6 829.0,334.7 828.2,335.8 827.4,332.4 826.6,332.9 825.8,334.8 825.0,335.9 824.2,335.6 823.4,334.7 822.6,335.1 821.8,334.2 821.0,333.5 820.2,333.8 819.4,334.5 818.6,333.5 817.8,334.5 817.0,334.9 816.2,335.9 815.4,334.9 814.6,331.5 813.8,330.3 813.0,329.3 812.2,327.6 811.4,328.8 810.6,327.3 809.8,331.0 809.0,327.7 808.2,329.5 807.4,328.6 806.6,327.7 805.8,327.1 805.0,328.2 804.2,326.0 803.4,327.2 802.6,324.7 801.8,324.8 801.0,325.8 800.2,327.7 799.4,322.9 798.6,351.4 797.8,352.4 797.0,351.6 796.2,355.2 795.4,353.5 794.6,353.1 793.8,353.4 793.0,356.2 792.2,355.9 791.4,347.0 790.6,347.7 789.8,347.5 789.0,357.4 788.2,357.3 787.4,357.1 786.6,358.3 785.8,358.0 785.0,356.6 784.2,356.6 783.4,356.2 782.6,328.4 781.8,328.2 781.0,332.4 780.2,329.5 779.4,337.6 778.6,328.5 777.8,328.5 777.0,329.3 776.2,328.1 775.4,327.6 774.6,329.2 773.8,328.3 773.0,325.3 772.2,329.8 771.4,327.4 770.6,324.4 769.8,328.9 769.0,326.8 768.2,324.0 767.4,324.5 766.6,323.5 765.8,322.6 765.0,327.8 764.2,323.2 763.4,324.8 762.6,324.0 761.8,325.4 761.0,326.6 760.2,329.1 759.4,324.3 758.6,322.6 757.8,324.4 757.0,321.1 756.2,322.6 755.4,319.8 754.6,318.6 753.8,317.3 753.0,318.6 752.2,323.3 751.4,314.7 750.6,315.9 749.8,343.4 749.0,346.4 748.2,347.8 747.4,345.9 746.6,348.2 745.8,346.6 745.0,348.7 744.2,346.1 743.4,346.0 742.6,340.6 741.8,338.5 741.0,341.3 740.2,350.2 739.4,348.1 738.6,348.1 737.8,352.3 737.0,351.5 736.2,350.1 735.4,350.2 734.6,349.9 733.8,320.7 733.0,322.9 732.2,320.0 731.4,320.1 730.6,320.7 729.8,321.5 729.0,321.4 728.2,320.6 727.4,320.1 726.6,319.7 725.8,319.8 725.0,317.5 724.2,316.0 723.4,316.2 722.6,319.6 721.8,317.6 721.0,316.4 720.2,316.5 719.4,325.0 718.6,320.2 717.8,314.5 717.0,313.1 716.2,313.6 715.4,315.5 714.6,316.6 713.8,316.6 713.0,315.5 712.2,313.1 711.4,312.9 710.6,314.5 709.8,312.0 709.0,311.2 708.2,312.7 707.4,310.3 706.6,309.8 705.8,310.5 705.0,309.4 704.2,308.0 703.4,307.3 702.6,306.2 701.8,306.5 701.0,334.7 700.2,334.0 699.4,336.3 698.6,334.5 697.8,334.1 697.0,332.7 696.2,332.8 695.4,332.2 694.6,332.3 693.8,326.3 693.0,329.0 692.2,327.6 691.4,339.4 690.6,339.7 689.8,337.8 689.0,339.8 688.2,340.5 687.4,340.2 686.6,341.1 685.8,338.6 685.0,311.6 684.2,312.8 683.4,309.9 682.6,309.9 681.8,311.3 681.0,309.1 680.2,310.7 679.4,310.9 678.6,310.7 677.8,309.0 677.0,309.5 676.2,309.4 675.4,308.0 674.6,309.1 673.8,309.4 673.0,306.9 672.2,305.6 671.4,306.5 670.6,305.0 669.8,305.2 669.0,309.3 668.2,307.1 667.4,303.8 666.6,304.8 665.8,307.6 665.0,303.5 664.2,305.0 663.4,306.1 662.6,305.4 661.8,307.0 661.0,303.7 660.2,300.6 659.4,300.0 658.6,299.7 657.8,301.2 657.0,302.7 656.2,300.2 655.4,300.9 654.6,298.9 653.8,297.7 653.0,297.7 652.2,325.4 651.4,327.8 650.6,326.4 649.8,325.1 649.0,327.6 648.2,326.6 647.4,325.2 646.6,324.4 645.8,325.3 645.0,317.4 644.2,317.8 643.4,318.2 642.6,328.1 641.8,328.5 641.0,330.7 640.2,329.4 639.4,328.8 638.6,330.2 637.8,332.2 637.0,331.3 636.2,305.2 635.4,305.2 634.6,305.5 633.8,303.9 633.0,307.9 632.2,312.4 631.4,307.8 630.6,305.8 629.8,305.8 629.0,307.6 628.2,303.8 627.4,309.7 626.6,302.8 625.8,302.4 625.0,303.0 624.2,301.2 623.4,301.3 622.6,302.4 621.8,303.4 621.0,300.6 620.2,301.4 619.4,299.5 618.6,299.4 617.8,300.9 617.0,302.5 616.2,303.3 615.4,302.6 614.6,301.3 613.8,303.7 613.0,300.7 612.2,300.4 611.4,298.1 610.6,298.2 609.8,300.0 609.0,298.6 608.2,307.4 607.4,296.7 606.6,295.1 605.8,294.1 605.0,292.7 604.2,294.1 603.4,320.1 602.6,320.6 601.8,317.9 601.0,320.1 600.2,319.0 599.4,319.8 598.6,321.4 597.8,321.5 597.0,321.2 596.2,316.2 595.4,316.3 594.6,316.6 593.8,326.5 593.0,326.1 592.2,325.2 591.4,324.6 590.6,323.4 589.8,324.3 589.0,323.7 588.2,325.6 587.4,300.2 586.6,306.7 585.8,302.2 585.0,303.3 584.2,307.2 583.4,307.7 582.6,303.1 581.8,304.3 581.0,304.7 580.2,302.5 579.4,300.3 578.6,300.4 577.8,301.3 577.0,300.1 576.2,300.9 575.4,299.6 574.6,298.6 573.8,297.5 573.0,303.2 572.2,299.4 571.4,300.6 570.6,295.5 569.8,297.4 569.0,297.1 568.2,297.5 567.4,295.7 566.6,295.5 565.8,293.6 565.0,294.6 564.2,299.9 563.4,293.2 562.6,293.9 561.8,296.1 561.0,294.0 560.2,295.6 559.4,293.7 558.6,292.7 557.8,291.4 557.0,290.8 556.2,292.6 555.4,291.8 554.6,319.6 553.8,317.7 553.0,318.9 552.2,317.6 551.4,317.7 550.6,319.1 549.8,318.4 549.0,318.6 548.2,318.4 547.4,312.8 546.6,311.3 545.8,311.2 545.0,322.8 544.2,322.5 543.4,322.3 542.6,324.7 541.8,323.2 541.0,325.7 540.2,322.4 539.4,300.8 538.6,299.6 537.8,298.5 537.0,298.9 536.2,301.3 535.4,299.2 534.6,300.6 533.8,298.7 533.0,296.0 532.2,297.0 531.4,305.2 530.6,294.8 529.8,295.1 529.0,297.9 528.2,295.4 527.4,296.5 526.6,294.7 525.8,295.4 525.0,296.2 524.2,296.9 523.4,297.6 522.6,295.1 521.8,295.2 521.0,292.8 520.2,298.4 519.4,291.3 518.6,294.4 517.8,292.4 517.0,291.7 516.2,290.7 515.4,292.9 514.6,290.8 513.8,289.5 513.0,289.8 512.2,288.2 511.4,288.1 510.6,288.6 509.8,291.5 509.0,290.8 508.2,291.6 507.4,289.7 506.6,288.2 505.8,315.5 505.0,315.3 504.2,314.8 503.4,314.2 502.6,315.1 501.8,316.5 501.0,315.5 500.2,315.7 499.4,308.0 498.6,309.3 497.8,309.0 497.0,307.1 496.2,318.3 495.4,317.7 494.6,317.1 493.8,318.9 493.0,321.5 492.2,319.9 491.4,321.3 490.6,296.8 489.8,295.2 489.0,296.3 488.2,293.0 487.4,292.9 486.6,293.8 485.8,294.8 485.0,297.0 484.2,293.4 483.4,293.7 482.6,292.7 481.8,295.1 481.0,296.4 480.2,294.3 479.4,293.2 478.6,293.8 477.8,295.0 477.0,296.1 476.2,294.1 475.4,295.9 474.6,297.1 473.8,295.0 473.0,292.9 472.2,291.8 471.4,294.8 470.6,297.2 469.8,292.9 469.0,292.7 468.2,291.9 467.4,293.2 466.6,290.3 465.8,290.7 465.0,291.0 464.2,289.2 463.4,286.3 462.6,288.1 461.8,290.3 461.0,286.6 460.2,286.5 459.4,287.8 458.6,289.4 457.8,289.6 457.0,319.2 456.2,316.9 455.4,315.0 454.6,315.7 453.8,313.9 453.0,314.9 452.2,313.2 451.4,314.6 450.6,306.6 449.8,307.0 449.0,307.7 448.2,311.3 447.4,319.6 446.6,320.0 445.8,321.1 445.0,317.6 444.2,318.0 443.4,317.1 442.6,320.2 441.8,295.3 441.0,295.6 440.2,300.2 439.4,298.1 438.6,298.9 437.8,295.1 437.0,293.4 436.2,294.0 435.4,300.5 434.6,293.3 433.8,295.3 433.0,295.2 432.2,296.2 431.4,293.7 430.6,291.7 429.8,292.2 429.0,291.1 428.2,291.4 427.4,293.1 426.6,296.4 425.8,290.5 425.0,290.4 424.2,289.7 423.4,292.0 422.6,287.2 421.8,290.0 421.0,288.3 420.2,293.3 419.4,287.6 418.6,290.4 417.8,291.2 417.0,292.2 416.2,290.3 415.4,289.6 414.6,286.2 413.8,285.1 413.0,286.0 412.2,285.5 411.4,286.3 410.6,286.3 409.8,286.9 409.0,285.4 408.2,313.0 407.4,311.8 406.6,314.9 405.8,311.7 405.0,310.6 404.2,311.6 403.4,310.5 402.6,310.7 401.8,305.4 401.0,307.0 400.2,304.6 399.4,304.2 398.6,315.8 397.8,314.9 397.0,316.5 396.2,316.1 395.4,316.0 394.6,320.6 393.8,315.4 393.0,292.4 392.2,290.7 391.4,292.4 390.6,288.5 389.8,290.3 389.0,289.5 388.2,300.2 387.4,291.5 386.6,292.0 385.8,293.6 385.0,292.7 384.2,292.6 383.4,292.4 382.6,293.0 381.8,291.6 381.0,292.2 380.2,290.9 379.4,291.2 378.6,292.7 377.8,288.6 377.0,286.0 376.2,286.2 375.4,291.8 374.6,286.0 373.8,290.1 373.0,289.8 372.2,291.6 371.4,290.6 370.6,289.0 369.8,287.2 369.0,288.1 368.2,286.9 367.4,289.3 366.6,285.0 365.8,285.1 365.0,284.4 364.2,282.8 363.4,283.6 362.6,285.5 361.8,286.4 361.0,288.9 360.2,283.9 359.4,308.7 358.6,308.3 357.8,308.4 357.0,308.8 356.2,309.3 355.4,310.4 354.6,307.5 353.8,311.0 353.0,302.9 352.2,302.3 351.4,301.8 350.6,302.8 349.8,313.3 349.0,312.4 348.2,312.4 347.4,311.7 346.6,313.2 345.8,312.6 345.0,312.5 344.2,292.1 343.4,300.5 342.6,290.7 341.8,291.1 341.0,291.9 340.2,289.7 339.4,289.2 338.6,291.2 337.8,290.7 337.0,290.3 336.2,288.9 335.4,288.7 334.6,288.4 333.8,288.6 333.0,287.6 332.2,288.8 331.4,289.1 330.6,291.8 329.8,291.3 329.0,290.0 328.2,290.7 327.4,289.5 326.6,287.9 325.8,290.5 325.0,288.9 324.2,288.3 323.4,295.4 322.6,286.3 321.8,287.9 321.0,288.4 320.2,286.2 319.4,285.2 318.6,285.0 317.8,283.7 317.0,282.8 316.2,283.8 315.4,284.5 314.6,283.7 313.8,284.6 313.0,283.0 312.2,282.1 311.4,280.4 310.6,285.9 309.8,285.6 309.0,285.0 308.2,284.7 307.4,306.1 306.6,305.3 305.8,305.9 305.0,307.8 304.2,307.2 303.4,306.4 302.6,305.3 301.8,299.0 301.0,300.8 300.2,298.8 299.4,299.4 298.6,310.2 297.8,309.7 297.0,309.5 296.2,310.5 295.4,310.0 294.6,308.8 293.8,308.6 293.0,310.2 292.2,308.8 291.4,311.6 290.6,309.6 289.8,311.3 289.0,309.6 288.2,309.5 287.4,309.2" fill="#f54342"/>
<rect x="963.1" y="205.1" width="62.8" height="212.9" fill="rgba(199,199,199,0.5)" stroke="rgba(255,40,40,0.45)" stroke-width="5.5"/>
<g font-family="'Liberation Serif', 'Times New Roman', serif" font-size="73.0" fill="#000">
<text x="287.5" y="1439.5" text-anchor="middle">0</text>
<text x="644.1" y="1439.5" text-anchor="middle">10,000</text>
<text x="1000.7" y="1439.5" text-anchor="middle">20,000</text>
<text x="1357.3" y="1439.5" text-anchor="middle">30,000</text>
<text x="1713.9" y="1439.5" text-anchor="middle">40,000</text>
<text x="243.5" y="1362.2" text-anchor="end">2.4</text>
<text x="243.5" y="1127.1" text-anchor="end">2.6</text>
<text x="243.5" y="892.0" text-anchor="end">2.8</text>
<text x="243.5" y="656.9" text-anchor="end">3.0</text>
<text x="243.5" y="421.8" text-anchor="end">3.2</text>
<text x="243.5" y="186.7" text-anchor="end">3.4</text>
<text x="1089.5" y="1560" text-anchor="middle" font-size="74.0">time (s)</text>
<text transform="translate(77.5,668.5) rotate(-90)" text-anchor="middle" font-size="74.0">Ut(V)</text>
</g>
<rect x="1254.6" y="91.3" width="597.2" height="195" fill="#fff"/>
<rect x="1254.6" y="91.3" width="597.2" height="2.8" fill="#cfcfcf"/>
<rect x="1257.4" y="94.0" width="594.4" height="2.7" fill="#a9a9a9"/>
<rect x="1254.6" y="91.3" width="2.8" height="195" fill="#cfcfcf"/>
<rect x="1257.4" y="94.0" width="2.9" height="192.3" fill="#a9a9a9"/>
<rect x="1846.2" y="94.0" width="2.9" height="192.3" fill="#cccccc"/>
<rect x="1849.1" y="91.3" width="2.7" height="195" fill="#b0b0b0"/>
<rect x="1254.6" y="283.0" width="597.2" height="3.4" fill="#989898"/>
<rect x="1265.5" y="141.9" width="169.3" height="3.3" fill="#307ae0"/>
<rect x="1265.5" y="145.2" width="169.3" height="2.9" fill="#6199e8"/>
<rect x="1265.5" y="232.0" width="169.3" height="3.3" fill="#f87878"/>
<rect x="1265.5" y="235.3" width="169.3" height="3.0" fill="#f75555"/>
<g font-family="'Liberation Serif', 'Times New Roman', serif" font-size="73.0" fill="#000">
<text x="1450" y="170.3">Ut<tspan dy="6.5" fill="#5a5a5a" stroke="#5a5a5a" stroke-width="1.6">_</tspan><tspan dy="-6.5">measured</tspan></text>
<text x="1450" y="260.5">Ut<tspan dy="6.5" fill="#5a5a5a" stroke="#5a5a5a" stroke-width="1.6">_</tspan><tspan dy="-6.5">VFFRLS</tspan></text>
</g>
<line x1="956.6" y1="418.2" x2="518.2" y2="556.2" stroke="#000" stroke-width="3.7"/><polygon points="479.1,568.5 515.0,545.9 518.2,556.2 521.4,566.4" fill="#000"/>
<line x1="1022.4" y1="426.0" x2="973.5" y2="544.7" stroke="#000" stroke-width="3.7"/><polygon points="957.9,582.6 963.6,540.6 973.5,544.7 983.5,548.8" fill="#000"/>
<rect x="470.9" y="578.0" width="477.0" height="417.6" fill="#fff"/>
<clipPath id="ic"><rect x="470.9" y="578.0" width="479.8" height="420.40000000000003"/></clipPath>
<g clip-path="url(#ic)" fill="none" stroke-linejoin="round" stroke-linecap="round">
<polyline points="470.0,751.2 473.0,786.2 475.7,813.8 480.6,839.2 483.5,843.2 486.3,840.2 491.2,828.5 496.9,822.0 501.8,800.8 505.9,776.2 509.0,753.2 513.2,743.4 516.5,761.3 520.5,803.2 527.0,843.2 535.2,857.8 540.9,869.2 546.6,859.5 553.1,835.0 558.0,805.7 561.9,763.0 564.4,684.7 566.8,635.8 571.7,606.5 576.6,588.5 580.7,584.5 586.4,586.9 592.9,600.0 597.0,619.5 599.4,649.0 601.9,670.2 606.0,683.2 614.1,693.0 625.5,699.5 641.8,703.6 668.3,703.4 717.2,703.4 722.9,700.2 728.0,703.5 736.3,700.2 777.0,699.3 817.8,698.0 822.0,695.0 827.6,694.3 829.2,701.0 837.0,786.2 847.0,883.2 858.4,994.5 859.4,1004.2 874.5,1004.2 875.7,994.5 880.1,907.4 883.3,842.2 887.4,806.3 891.5,786.8 895.5,781.9 901.8,801.3 904.3,827.4 909.0,820.3 915.5,819.5 920.4,831.7 924.6,874.8 927.1,925.3 929.3,862.7 931.8,781.2 934.7,715.7 937.2,676.5 940.8,710.8 944.0,671.6 948.3,624.2" stroke="#2469de" stroke-width="3.9"/>
<polyline points="471.0,750.0 474.0,785.0 476.7,812.6 481.6,838.0 484.5,842.0 487.3,839.0 492.2,827.3 497.9,820.8 502.8,799.6 506.9,775.0 510.0,752.0 514.2,742.2 517.5,760.1 521.5,802.0 528.0,842.0 536.2,856.6 541.9,868.0 547.6,858.3 554.1,833.8 559.0,804.5 563.9,765.0 566.4,686.7 568.8,637.8 573.7,608.5 578.6,590.5 582.7,586.5 588.4,588.9 594.9,602.0 599.0,621.5 601.4,646.0 603.9,667.2 608.0,680.2 616.1,690.0 627.5,696.5 643.8,700.6 668.3,701.4 717.2,701.4 722.9,698.2 728.0,701.5 736.3,698.2 777.0,697.3 817.8,696.0 822.0,693.0 827.6,692.3 829.2,699.0 838.0,785.0 848.0,882.0 859.4,993.3 860.4,1003.0 875.5,1003.0 876.7,993.3 883.1,910.4 886.3,845.2 890.4,809.3 894.5,789.8 898.5,784.9 901.8,796.3 904.3,822.4 910.0,819.1 916.5,818.3 921.4,830.5 924.6,864.8 927.1,915.3 930.3,861.5 932.8,780.0 935.2,735.7 937.7,696.5 941.8,709.6 945.0,670.4 948.3,636.2" stroke="#f54342" stroke-width="3.9"/>
</g>
<g stroke="#1c1c1c" stroke-width="5.4" fill="none">
<rect x="470.9" y="578.0" width="477.0" height="417.6"/>
<line x1="470.9" y1="973.0" x2="456.29999999999995" y2="973.0" stroke-width="5"/>
<line x1="470.9" y1="933.9" x2="444.0" y2="933.9" stroke-width="5"/>
<line x1="470.9" y1="894.8" x2="456.29999999999995" y2="894.8" stroke-width="5"/>
<line x1="470.9" y1="855.7" x2="444.0" y2="855.7" stroke-width="5"/>
<line x1="470.9" y1="816.6" x2="456.29999999999995" y2="816.6" stroke-width="5"/>
<line x1="470.9" y1="777.5" x2="444.0" y2="777.5" stroke-width="5"/>
<line x1="470.9" y1="738.4" x2="456.29999999999995" y2="738.4" stroke-width="5"/>
<line x1="470.9" y1="699.3" x2="444.0" y2="699.3" stroke-width="5"/>
<line x1="470.9" y1="660.2" x2="456.29999999999995" y2="660.2" stroke-width="5"/>
<line x1="470.9" y1="621.1" x2="444.0" y2="621.1" stroke-width="5"/>
<line x1="470.9" y1="582.0" x2="456.29999999999995" y2="582.0" stroke-width="5"/>
<line x1="487.5" y1="995.6" x2="487.5" y2="1007.6" stroke-width="5"/>
<line x1="542.4" y1="995.6" x2="542.4" y2="1019.8000000000001" stroke-width="5"/>
<line x1="597.2" y1="995.6" x2="597.2" y2="1007.6" stroke-width="5"/>
<line x1="652.1" y1="995.6" x2="652.1" y2="1019.8000000000001" stroke-width="5"/>
<line x1="707.0" y1="995.6" x2="707.0" y2="1007.6" stroke-width="5"/>
<line x1="761.8" y1="995.6" x2="761.8" y2="1019.8000000000001" stroke-width="5"/>
<line x1="816.7" y1="995.6" x2="816.7" y2="1007.6" stroke-width="5"/>
<line x1="871.6" y1="995.6" x2="871.6" y2="1019.8000000000001" stroke-width="5"/>
<line x1="926.5" y1="995.6" x2="926.5" y2="1007.6" stroke-width="5"/>
</g>
<g font-family="'Liberation Serif', 'Noto Serif CJK SC', serif" font-size="55" fill="#444" letter-spacing="-0.5">
<text x="318" y="640.6" dx="0 0 13.25 0">3.29</text>
<text x="318" y="718.8" dx="0 0 13.25 0">3.28</text>
<text x="318" y="797.0" dx="0 0 13.25 0">3.27</text>
<text x="318" y="875.2" dx="0 0 13.25 0">3.26</text>
<text x="318" y="953.4" dx="0 0 13.25 0">3.25</text>
</g>
</svg>
</body></html>
